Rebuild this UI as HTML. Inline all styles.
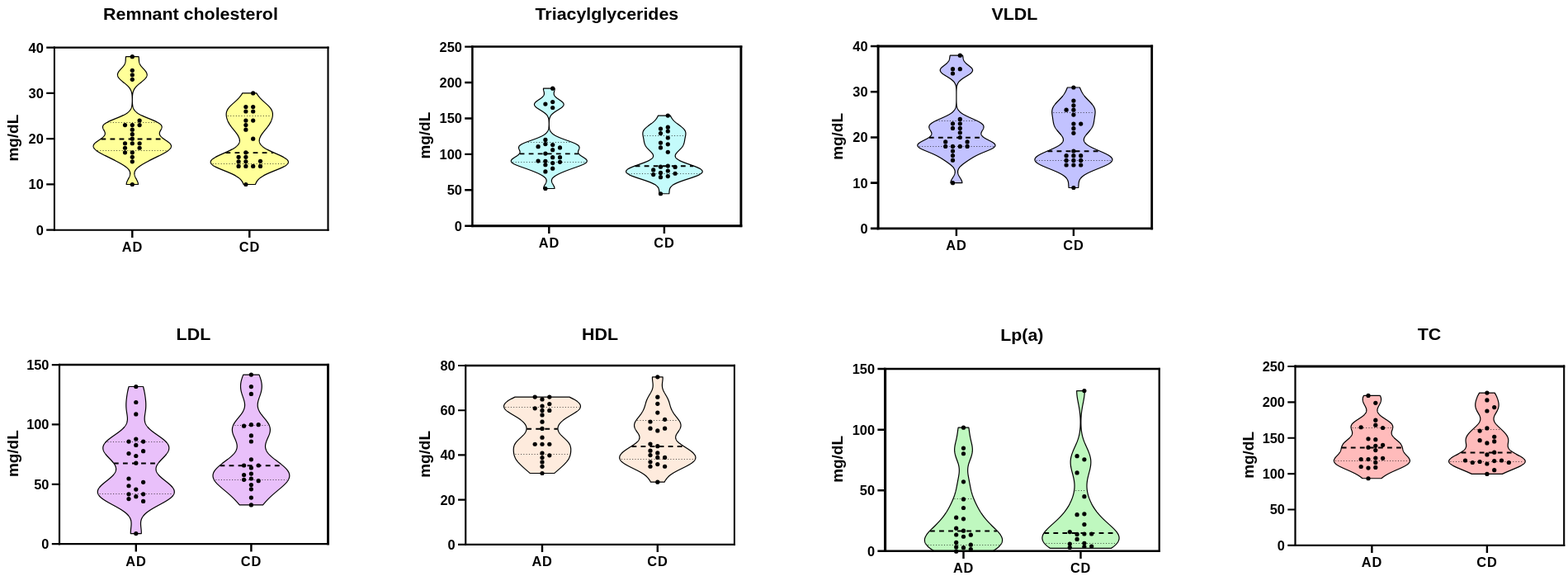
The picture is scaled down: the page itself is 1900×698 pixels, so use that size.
<!DOCTYPE html>
<html lang="en">
<head>
<meta charset="utf-8">
<title>Lipid profile violin plots</title>
<style>
html,body{margin:0;padding:0;background:#fff;}
body{width:1900px;height:698px;overflow:hidden;}
svg{display:block;}
text{font-family:"Liberation Sans",sans-serif;font-weight:bold;fill:#000;}
.ax{stroke:#000;stroke-width:2.0;fill:none;stroke-linecap:butt;}
.vio{stroke:#000;stroke-width:1.2;stroke-linejoin:round;}
.med{stroke:#000;stroke-width:1.9;stroke-dasharray:5.8 5.25;fill:none;}
.qt{stroke:#000;stroke-width:0.65;stroke-dasharray:1.1 2.2;fill:none;}
.tt{font-size:20.5px;text-anchor:middle;}
.yl{font-size:18.3px;text-anchor:middle;}
.tk{font-size:15.7px;text-anchor:end;}
.xl{font-size:15.7px;text-anchor:middle;letter-spacing:0.8px;}
</style>
</head>
<body>
<svg width="1900" height="698" viewBox="0 0 1900 698">
<rect x="0" y="0" width="1900" height="698" fill="#fff"/>
<g>
<text class="tt" transform="translate(230.95 23.7) scale(1.045 1)">Remnant cholesterol</text>
<path class="vio" fill="#FFFF99" d="M168.03,68.66 168.12,69.16 168.19,69.66 168.24,70.16 168.29,70.66 168.32,71.16 168.35,71.66 168.37,72.16 168.39,72.66 168.42,73.16 168.45,73.66 168.5,74.16 168.56,74.66 168.65,75.16 168.75,75.66 168.88,76.16 169.04,76.66 169.23,77.16 169.45,77.66 169.7,78.16 169.99,78.66 170.3,79.16 170.64,79.66 171.01,80.16 171.41,80.66 171.83,81.16 172.26,81.66 172.71,82.16 173.17,82.66 173.64,83.16 174.11,83.66 174.57,84.16 175.02,84.66 175.46,85.16 175.88,85.66 176.28,86.16 176.65,86.66 176.99,87.16 177.29,87.66 177.55,88.16 177.76,88.66 177.94,89.16 178.06,89.66 178.13,90.16 178.16,90.66 178.13,91.16 178.05,91.66 177.92,92.16 177.73,92.66 177.5,93.16 177.22,93.66 176.89,94.16 176.51,94.66 176.1,95.16 175.65,95.66 175.16,96.16 174.64,96.66 174.1,97.16 173.53,97.66 172.94,98.16 172.34,98.66 171.73,99.16 171.11,99.66 170.48,100.16 169.86,100.66 169.25,101.16 168.65,101.66 168.05,102.16 167.48,102.66 166.92,103.16 166.38,103.66 165.86,104.16 165.37,104.66 164.9,105.16 164.46,105.66 164.05,106.16 163.67,106.66 163.31,107.16 162.98,107.66 162.67,108.16 162.4,108.66 162.14,109.16 161.91,109.66 161.71,110.16 161.52,110.66 161.36,111.16 161.21,111.66 161.08,112.16 160.96,112.66 160.87,113.16 160.78,113.66 160.7,114.16 160.64,114.66 160.58,115.16 160.54,115.66 160.5,116.16 160.46,116.66 160.43,117.16 160.41,117.66 160.39,118.16 160.38,118.66 160.37,119.16 160.36,119.66 160.35,120.16 160.35,120.66 160.35,121.16 160.35,121.66 160.35,122.16 160.36,122.66 160.37,123.16 160.38,123.66 160.4,124.16 160.42,124.66 160.45,125.16 160.48,125.66 160.52,126.16 160.57,126.66 160.63,127.16 160.7,127.66 160.78,128.16 160.87,128.66 160.98,129.16 161.11,129.66 161.25,130.16 161.42,130.66 161.62,131.16 161.84,131.66 162.09,132.16 162.37,132.66 162.69,133.16 163.05,133.66 163.45,134.16 163.9,134.66 164.39,135.16 164.93,135.66 165.52,136.16 166.16,136.66 166.86,137.16 167.61,137.66 168.42,138.16 169.29,138.66 170.2,139.16 171.17,139.66 172.19,140.16 173.26,140.66 174.37,141.16 175.52,141.66 176.7,142.16 177.91,142.66 179.14,143.16 180.38,143.66 181.63,144.16 182.87,144.66 184.1,145.16 185.31,145.66 186.49,146.16 187.63,146.66 188.72,147.16 189.76,147.66 190.74,148.16 191.64,148.66 192.47,149.16 193.22,149.66 193.89,150.16 194.47,150.66 194.96,151.16 195.36,151.66 195.67,152.16 195.9,152.66 196.05,153.16 196.12,153.66 196.11,154.16 196.04,154.66 195.92,155.16 195.75,155.66 195.53,156.16 195.29,156.66 195.03,157.16 194.75,157.66 194.48,158.16 194.21,158.66 193.96,159.16 193.74,159.66 193.56,160.16 193.41,160.66 193.32,161.16 193.28,161.66 193.3,162.16 193.38,162.66 193.53,163.16 193.74,163.66 194.02,164.16 194.36,164.66 194.77,165.16 195.24,165.66 195.76,166.16 196.34,166.66 196.96,167.16 197.62,167.66 198.31,168.16 199.02,168.66 199.75,169.16 200.49,169.66 201.23,170.16 201.96,170.66 202.67,171.16 203.36,171.66 204.01,172.16 204.63,172.66 205.19,173.16 205.71,173.66 206.17,174.16 206.56,174.66 206.89,175.16 207.15,175.66 207.34,176.16 207.46,176.66 207.5,177.16 207.47,177.66 207.36,178.16 207.18,178.66 206.94,179.16 206.62,179.66 206.24,180.16 205.79,180.66 205.29,181.16 204.73,181.66 204.12,182.16 203.45,182.66 202.75,183.16 202,183.66 201.21,184.16 200.39,184.66 199.54,185.16 198.66,185.66 197.75,186.16 196.83,186.66 195.88,187.16 194.92,187.66 193.94,188.16 192.96,188.66 191.96,189.16 190.96,189.66 189.95,190.16 188.93,190.66 187.92,191.16 186.9,191.66 185.89,192.16 184.87,192.66 183.87,193.16 182.86,193.66 181.86,194.16 180.87,194.66 179.9,195.16 178.93,195.66 177.97,196.16 177.03,196.66 176.1,197.16 175.2,197.66 174.31,198.16 173.44,198.66 172.6,199.16 171.79,199.66 171,200.16 170.24,200.66 169.51,201.16 168.82,201.66 168.15,202.16 167.53,202.66 166.94,203.16 166.39,203.66 165.88,204.16 165.41,204.66 164.97,205.16 164.58,205.66 164.23,206.16 163.93,206.66 163.66,207.16 163.43,207.66 163.25,208.16 163.1,208.66 162.99,209.16 162.92,209.66 162.89,210.16 162.9,210.66 162.93,211.16 163.01,211.66 163.11,212.16 163.24,212.66 163.4,213.16 163.58,213.66 163.78,214.16 164,214.66 164.24,215.16 164.49,215.66 164.75,216.16 165.02,216.66 165.29,217.16 165.55,217.66 165.81,218.16 166.07,218.66 166.3,219.16 166.53,219.66 166.73,220.16 166.92,220.66 167.07,221.16 167.2,221.66 167.3,222.16 167.37,222.66 167.41,223.16 167.42,223.5 153.18,223.5 153.19,223.16 153.23,222.66 153.3,222.16 153.4,221.66 153.53,221.16 153.68,220.66 153.87,220.16 154.07,219.66 154.3,219.16 154.53,218.66 154.79,218.16 155.05,217.66 155.31,217.16 155.58,216.66 155.85,216.16 156.11,215.66 156.36,215.16 156.6,214.66 156.82,214.16 157.02,213.66 157.2,213.16 157.36,212.66 157.49,212.16 157.59,211.66 157.67,211.16 157.7,210.66 157.71,210.16 157.68,209.66 157.61,209.16 157.5,208.66 157.35,208.16 157.17,207.66 156.94,207.16 156.67,206.66 156.37,206.16 156.02,205.66 155.63,205.16 155.19,204.66 154.72,204.16 154.21,203.66 153.66,203.16 153.07,202.66 152.45,202.16 151.78,201.66 151.09,201.16 150.36,200.66 149.6,200.16 148.81,199.66 148,199.16 147.16,198.66 146.29,198.16 145.4,197.66 144.5,197.16 143.57,196.66 142.63,196.16 141.67,195.66 140.7,195.16 139.73,194.66 138.74,194.16 137.74,193.66 136.73,193.16 135.73,192.66 134.71,192.16 133.7,191.66 132.68,191.16 131.67,190.66 130.65,190.16 129.64,189.66 128.64,189.16 127.64,188.66 126.66,188.16 125.68,187.66 124.72,187.16 123.77,186.66 122.85,186.16 121.94,185.66 121.06,185.16 120.21,184.66 119.39,184.16 118.6,183.66 117.85,183.16 117.15,182.66 116.48,182.16 115.87,181.66 115.31,181.16 114.81,180.66 114.36,180.16 113.98,179.66 113.66,179.16 113.42,178.66 113.24,178.16 113.13,177.66 113.1,177.16 113.14,176.66 113.26,176.16 113.45,175.66 113.71,175.16 114.04,174.66 114.43,174.16 114.89,173.66 115.41,173.16 115.97,172.66 116.59,172.16 117.24,171.66 117.93,171.16 118.64,170.66 119.37,170.16 120.11,169.66 120.85,169.16 121.58,168.66 122.29,168.16 122.98,167.66 123.64,167.16 124.26,166.66 124.84,166.16 125.36,165.66 125.83,165.16 126.24,164.66 126.58,164.16 126.86,163.66 127.07,163.16 127.22,162.66 127.3,162.16 127.32,161.66 127.28,161.16 127.19,160.66 127.04,160.16 126.86,159.66 126.64,159.16 126.39,158.66 126.12,158.16 125.85,157.66 125.57,157.16 125.31,156.66 125.07,156.16 124.85,155.66 124.68,155.16 124.56,154.66 124.49,154.16 124.48,153.66 124.55,153.16 124.7,152.66 124.93,152.16 125.24,151.66 125.64,151.16 126.13,150.66 126.71,150.16 127.38,149.66 128.13,149.16 128.96,148.66 129.86,148.16 130.84,147.66 131.88,147.16 132.97,146.66 134.11,146.16 135.29,145.66 136.5,145.16 137.73,144.66 138.97,144.16 140.22,143.66 141.46,143.16 142.69,142.66 143.9,142.16 145.08,141.66 146.23,141.16 147.34,140.66 148.41,140.16 149.43,139.66 150.4,139.16 151.31,138.66 152.18,138.16 152.99,137.66 153.74,137.16 154.44,136.66 155.08,136.16 155.67,135.66 156.21,135.16 156.7,134.66 157.15,134.16 157.55,133.66 157.91,133.16 158.23,132.66 158.51,132.16 158.76,131.66 158.98,131.16 159.18,130.66 159.35,130.16 159.49,129.66 159.62,129.16 159.73,128.66 159.82,128.16 159.9,127.66 159.97,127.16 160.03,126.66 160.08,126.16 160.12,125.66 160.15,125.16 160.18,124.66 160.2,124.16 160.22,123.66 160.23,123.16 160.24,122.66 160.25,122.16 160.25,121.66 160.25,121.16 160.25,120.66 160.25,120.16 160.24,119.66 160.23,119.16 160.22,118.66 160.21,118.16 160.19,117.66 160.17,117.16 160.14,116.66 160.1,116.16 160.06,115.66 160.02,115.16 159.96,114.66 159.9,114.16 159.82,113.66 159.73,113.16 159.64,112.66 159.52,112.16 159.39,111.66 159.24,111.16 159.08,110.66 158.89,110.16 158.69,109.66 158.46,109.16 158.2,108.66 157.93,108.16 157.62,107.66 157.29,107.16 156.93,106.66 156.55,106.16 156.14,105.66 155.7,105.16 155.23,104.66 154.74,104.16 154.22,103.66 153.68,103.16 153.12,102.66 152.55,102.16 151.95,101.66 151.35,101.16 150.74,100.66 150.12,100.16 149.49,99.66 148.87,99.16 148.26,98.66 147.66,98.16 147.07,97.66 146.5,97.16 145.96,96.66 145.44,96.16 144.95,95.66 144.5,95.16 144.09,94.66 143.71,94.16 143.38,93.66 143.1,93.16 142.87,92.66 142.68,92.16 142.55,91.66 142.47,91.16 142.44,90.66 142.47,90.16 142.54,89.66 142.66,89.16 142.84,88.66 143.05,88.16 143.31,87.66 143.61,87.16 143.95,86.66 144.32,86.16 144.72,85.66 145.14,85.16 145.58,84.66 146.03,84.16 146.49,83.66 146.96,83.16 147.43,82.66 147.89,82.16 148.34,81.66 148.77,81.16 149.19,80.66 149.59,80.16 149.96,79.66 150.3,79.16 150.61,78.66 150.9,78.16 151.15,77.66 151.37,77.16 151.56,76.66 151.72,76.16 151.85,75.66 151.95,75.16 152.04,74.66 152.1,74.16 152.15,73.66 152.18,73.16 152.21,72.66 152.23,72.16 152.25,71.66 152.28,71.16 152.31,70.66 152.36,70.16 152.41,69.66 152.48,69.16 152.57,68.66Z"/>
<line class="qt" x1="130.24" y1="148.5" x2="190.36" y2="148.5"/>
<line class="qt" x1="117.91" y1="182.5" x2="202.69" y2="182.5"/>
<line class="med" x1="122.44" y1="168.5" x2="198.16" y2="168.5"/>
<circle cx="160.3" cy="68.66" r="2.6"/>
<circle cx="160.3" cy="85.25" r="2.6"/>
<circle cx="160.3" cy="90.78" r="2.6"/>
<circle cx="160.3" cy="96.31" r="2.6"/>
<circle cx="169.1" cy="146.08" r="2.6"/>
<circle cx="151.5" cy="151.61" r="2.6"/>
<circle cx="160.3" cy="151.61" r="2.6"/>
<circle cx="169.1" cy="151.61" r="2.6"/>
<circle cx="160.3" cy="157.14" r="2.6"/>
<circle cx="160.3" cy="162.67" r="2.6"/>
<circle cx="160.3" cy="168.2" r="2.6"/>
<circle cx="151.5" cy="173.73" r="2.6"/>
<circle cx="160.3" cy="173.73" r="2.6"/>
<circle cx="169.1" cy="173.73" r="2.6"/>
<circle cx="151.5" cy="179.26" r="2.6"/>
<circle cx="169.1" cy="179.26" r="2.6"/>
<circle cx="151.5" cy="184.79" r="2.6"/>
<circle cx="160.3" cy="184.79" r="2.6"/>
<circle cx="160.3" cy="190.32" r="2.6"/>
<circle cx="160.3" cy="195.85" r="2.6"/>
<circle cx="160.3" cy="223.5" r="2.6"/>
<path class="vio" fill="#FFFF99" d="M310.81,112.9 311.12,113.4 311.44,113.9 311.77,114.4 312.12,114.9 312.47,115.4 312.83,115.9 313.21,116.4 313.6,116.9 314,117.4 314.42,117.9 314.85,118.4 315.3,118.9 315.76,119.4 316.24,119.9 316.73,120.4 317.24,120.9 317.75,121.4 318.28,121.9 318.82,122.4 319.37,122.9 319.92,123.4 320.48,123.9 321.04,124.4 321.6,124.9 322.16,125.4 322.72,125.9 323.27,126.4 323.81,126.9 324.34,127.4 324.86,127.9 325.36,128.4 325.85,128.9 326.31,129.4 326.76,129.9 327.18,130.4 327.58,130.9 327.95,131.4 328.3,131.9 328.62,132.4 328.92,132.9 329.18,133.4 329.42,133.9 329.63,134.4 329.82,134.9 329.98,135.4 330.11,135.9 330.22,136.4 330.3,136.9 330.37,137.4 330.41,137.9 330.43,138.4 330.43,138.9 330.41,139.4 330.38,139.9 330.33,140.4 330.26,140.9 330.18,141.4 330.08,141.9 329.98,142.4 329.85,142.9 329.72,143.4 329.58,143.9 329.42,144.4 329.25,144.9 329.07,145.4 328.87,145.9 328.67,146.4 328.45,146.9 328.22,147.4 327.98,147.9 327.73,148.4 327.46,148.9 327.18,149.4 326.89,149.9 326.59,150.4 326.28,150.9 325.95,151.4 325.61,151.9 325.26,152.4 324.9,152.9 324.54,153.4 324.16,153.9 323.78,154.4 323.38,154.9 322.99,155.4 322.59,155.9 322.18,156.4 321.77,156.9 321.36,157.4 320.96,157.9 320.55,158.4 320.14,158.9 319.74,159.4 319.34,159.9 318.95,160.4 318.57,160.9 318.19,161.4 317.83,161.9 317.47,162.4 317.13,162.9 316.8,163.4 316.49,163.9 316.18,164.4 315.9,164.9 315.63,165.4 315.39,165.9 315.16,166.4 314.95,166.9 314.77,167.4 314.61,167.9 314.47,168.4 314.36,168.9 314.28,169.4 314.23,169.9 314.21,170.4 314.23,170.9 314.28,171.4 314.36,171.9 314.48,172.4 314.64,172.9 314.84,173.4 315.08,173.9 315.37,174.4 315.7,174.9 316.08,175.4 316.5,175.9 316.97,176.4 317.48,176.9 318.05,177.4 318.66,177.9 319.32,178.4 320.03,178.9 320.78,179.4 321.58,179.9 322.42,180.4 323.31,180.9 324.23,181.4 325.19,181.9 326.19,182.4 327.22,182.9 328.27,183.4 329.35,183.9 330.45,184.4 331.57,184.9 332.69,185.4 333.83,185.9 334.96,186.4 336.09,186.9 337.21,187.4 338.31,187.9 339.4,188.4 340.45,188.9 341.47,189.4 342.46,189.9 343.4,190.4 344.29,190.9 345.12,191.4 345.89,191.9 346.6,192.4 347.24,192.9 347.8,193.4 348.28,193.9 348.68,194.4 348.99,194.9 349.22,195.4 349.36,195.9 349.4,196.4 349.35,196.9 349.21,197.4 348.98,197.9 348.65,198.4 348.24,198.9 347.73,199.4 347.15,199.9 346.48,200.4 345.73,200.9 344.91,201.4 344.02,201.9 343.07,202.4 342.06,202.9 340.99,203.4 339.89,203.9 338.74,204.4 337.56,204.9 336.36,205.4 335.13,205.9 333.9,206.4 332.66,206.9 331.42,207.4 330.18,207.9 328.96,208.4 327.76,208.9 326.58,209.4 325.43,209.9 324.31,210.4 323.23,210.9 322.18,211.4 321.18,211.9 320.22,212.4 319.31,212.9 318.45,213.4 317.63,213.9 316.86,214.4 316.14,214.9 315.46,215.4 314.84,215.9 314.25,216.4 313.71,216.9 313.21,217.4 312.75,217.9 312.32,218.4 311.93,218.9 311.56,219.4 311.23,219.9 310.92,220.4 310.63,220.9 310.36,221.4 310.11,221.9 309.88,222.4 309.65,222.9 309.44,223.4 309.39,223.5 295.21,223.5 295.16,223.4 294.95,222.9 294.72,222.4 294.49,221.9 294.24,221.4 293.97,220.9 293.68,220.4 293.37,219.9 293.04,219.4 292.67,218.9 292.28,218.4 291.85,217.9 291.39,217.4 290.89,216.9 290.35,216.4 289.76,215.9 289.14,215.4 288.46,214.9 287.74,214.4 286.97,213.9 286.15,213.4 285.29,212.9 284.38,212.4 283.42,211.9 282.42,211.4 281.37,210.9 280.29,210.4 279.17,209.9 278.02,209.4 276.84,208.9 275.64,208.4 274.42,207.9 273.18,207.4 271.94,206.9 270.7,206.4 269.47,205.9 268.24,205.4 267.04,204.9 265.86,204.4 264.71,203.9 263.61,203.4 262.54,202.9 261.53,202.4 260.58,201.9 259.69,201.4 258.87,200.9 258.12,200.4 257.45,199.9 256.87,199.4 256.36,198.9 255.95,198.4 255.62,197.9 255.39,197.4 255.25,196.9 255.2,196.4 255.24,195.9 255.38,195.4 255.61,194.9 255.92,194.4 256.32,193.9 256.8,193.4 257.36,192.9 258,192.4 258.71,191.9 259.48,191.4 260.31,190.9 261.2,190.4 262.14,189.9 263.13,189.4 264.15,188.9 265.2,188.4 266.29,187.9 267.39,187.4 268.51,186.9 269.64,186.4 270.77,185.9 271.91,185.4 273.03,184.9 274.15,184.4 275.25,183.9 276.33,183.4 277.38,182.9 278.41,182.4 279.41,181.9 280.37,181.4 281.29,180.9 282.18,180.4 283.02,179.9 283.82,179.4 284.57,178.9 285.28,178.4 285.94,177.9 286.55,177.4 287.12,176.9 287.63,176.4 288.1,175.9 288.52,175.4 288.9,174.9 289.23,174.4 289.52,173.9 289.76,173.4 289.96,172.9 290.12,172.4 290.24,171.9 290.32,171.4 290.37,170.9 290.39,170.4 290.37,169.9 290.32,169.4 290.24,168.9 290.13,168.4 289.99,167.9 289.83,167.4 289.65,166.9 289.44,166.4 289.21,165.9 288.97,165.4 288.7,164.9 288.42,164.4 288.11,163.9 287.8,163.4 287.47,162.9 287.13,162.4 286.77,161.9 286.41,161.4 286.03,160.9 285.65,160.4 285.26,159.9 284.86,159.4 284.46,158.9 284.05,158.4 283.64,157.9 283.24,157.4 282.83,156.9 282.42,156.4 282.01,155.9 281.61,155.4 281.22,154.9 280.82,154.4 280.44,153.9 280.06,153.4 279.7,152.9 279.34,152.4 278.99,151.9 278.65,151.4 278.32,150.9 278.01,150.4 277.71,149.9 277.42,149.4 277.14,148.9 276.87,148.4 276.62,147.9 276.38,147.4 276.15,146.9 275.93,146.4 275.73,145.9 275.53,145.4 275.35,144.9 275.18,144.4 275.02,143.9 274.88,143.4 274.75,142.9 274.62,142.4 274.52,141.9 274.42,141.4 274.34,140.9 274.27,140.4 274.22,139.9 274.19,139.4 274.17,138.9 274.17,138.4 274.19,137.9 274.23,137.4 274.3,136.9 274.38,136.4 274.49,135.9 274.62,135.4 274.78,134.9 274.97,134.4 275.18,133.9 275.42,133.4 275.68,132.9 275.98,132.4 276.3,131.9 276.65,131.4 277.02,130.9 277.42,130.4 277.84,129.9 278.29,129.4 278.75,128.9 279.24,128.4 279.74,127.9 280.26,127.4 280.79,126.9 281.33,126.4 281.88,125.9 282.44,125.4 283,124.9 283.56,124.4 284.12,123.9 284.68,123.4 285.23,122.9 285.78,122.4 286.32,121.9 286.85,121.4 287.36,120.9 287.87,120.4 288.36,119.9 288.84,119.4 289.3,118.9 289.75,118.4 290.18,117.9 290.6,117.4 291,116.9 291.39,116.4 291.77,115.9 292.13,115.4 292.48,114.9 292.83,114.4 293.16,113.9 293.48,113.4 293.79,112.9Z"/>
<line class="qt" x1="275.89" y1="140.5" x2="328.71" y2="140.5"/>
<line class="qt" x1="257.72" y1="198.5" x2="346.88" y2="198.5"/>
<line class="med" x1="273.48" y1="185.09" x2="331.12" y2="185.09"/>
<circle cx="306.7" cy="112.9" r="2.6"/>
<circle cx="297.9" cy="129.49" r="2.6"/>
<circle cx="306.7" cy="129.49" r="2.6"/>
<circle cx="297.9" cy="135.02" r="2.6"/>
<circle cx="306.7" cy="135.02" r="2.6"/>
<circle cx="297.9" cy="146.08" r="2.6"/>
<circle cx="306.7" cy="146.08" r="2.6"/>
<circle cx="297.9" cy="151.61" r="2.6"/>
<circle cx="297.9" cy="157.14" r="2.6"/>
<circle cx="306.7" cy="168.2" r="2.6"/>
<circle cx="297.9" cy="184.79" r="2.6"/>
<circle cx="289.1" cy="190.32" r="2.6"/>
<circle cx="297.9" cy="190.32" r="2.6"/>
<circle cx="289.1" cy="195.85" r="2.6"/>
<circle cx="297.9" cy="195.85" r="2.6"/>
<circle cx="315.5" cy="195.3" r="2.6"/>
<circle cx="289.1" cy="201.38" r="2.6"/>
<circle cx="297.9" cy="201.38" r="2.6"/>
<circle cx="306.7" cy="201.38" r="2.6"/>
<circle cx="315.5" cy="201.38" r="2.6"/>
<circle cx="297.9" cy="223.5" r="2.6"/>
<path class="ax" style="stroke-width:2.0" d="M65.9,56.5V279.75"/>
<path class="ax" style="stroke-width:2.2" d="M64.9,57.6H398.55"/>
<path class="ax" style="stroke-width:2.1" d="M397.5,56.5V279.75"/>
<path class="ax" style="stroke-width:2.1" d="M64.9,278.7H398.55"/>
<path class="ax" style="stroke-width:2.2" d="M56.2,278.7H65.9M56.2,223.42H65.9M56.2,168.15H65.9M56.2,112.88H65.9M56.2,57.6H65.9"/>
<path class="ax" style="stroke-width:2.4" d="M160.3,278.7V287.9M302.3,278.7V287.9"/>
<text class="tk" transform="translate(52.8 284.6) scale(1.045 1)">0</text>
<text class="tk" transform="translate(52.8 229.32) scale(1.045 1)">10</text>
<text class="tk" transform="translate(52.8 174.05) scale(1.045 1)">20</text>
<text class="tk" transform="translate(52.8 118.78) scale(1.045 1)">30</text>
<text class="tk" transform="translate(52.8 63.5) scale(1.045 1)">40</text>
<text class="xl" transform="translate(160.4 305) scale(1.045 1)">AD</text>
<text class="xl" transform="translate(302.4 305) scale(1.045 1)">CD</text>
<text class="yl" transform="translate(22.1 167.15) rotate(-90) scale(1.035 1)">mg/dL</text>
</g>
<g>
<text class="tt" transform="translate(735.35 23.5) scale(1.045 1)">Triacylglycerides</text>
<path class="vio" fill="#C4FBFB" d="M672.12,107.2 672.14,107.7 672.13,108.2 672.07,108.7 671.99,109.2 671.89,109.7 671.76,110.2 671.63,110.7 671.51,111.2 671.39,111.7 671.29,112.2 671.21,112.7 671.18,113.2 671.19,113.7 671.25,114.2 671.37,114.7 671.56,115.2 671.81,115.7 672.13,116.2 672.51,116.7 672.97,117.2 673.49,117.7 674.07,118.2 674.7,118.7 675.37,119.2 676.08,119.7 676.81,120.2 677.55,120.7 678.29,121.2 679.02,121.7 679.72,122.2 680.39,122.7 681,123.2 681.55,123.7 682.04,124.2 682.44,124.7 682.75,125.2 682.97,125.7 683.09,126.2 683.11,126.7 683.03,127.2 682.86,127.7 682.58,128.2 682.22,128.7 681.77,129.2 681.24,129.7 680.64,130.2 679.98,130.7 679.27,131.2 678.52,131.7 677.74,132.2 676.94,132.7 676.13,133.2 675.31,133.7 674.51,134.2 673.72,134.7 672.95,135.2 672.21,135.7 671.51,136.2 670.84,136.7 670.22,137.2 669.63,137.7 669.1,138.2 668.61,138.7 668.16,139.2 667.76,139.7 667.4,140.2 667.09,140.7 666.81,141.2 666.56,141.7 666.35,142.2 666.17,142.7 666.02,143.2 665.88,143.7 665.77,144.2 665.68,144.7 665.61,145.2 665.54,145.7 665.49,146.2 665.45,146.7 665.42,147.2 665.4,147.7 665.38,148.2 665.36,148.7 665.36,149.2 665.35,149.7 665.35,150.2 665.35,150.7 665.36,151.2 665.38,151.7 665.39,152.2 665.42,152.7 665.45,153.2 665.49,153.7 665.54,154.2 665.6,154.7 665.67,155.2 665.76,155.7 665.87,156.2 666,156.7 666.15,157.2 666.34,157.7 666.55,158.2 666.8,158.7 667.08,159.2 667.41,159.7 667.79,160.2 668.21,160.7 668.69,161.2 669.22,161.7 669.81,162.2 670.47,162.7 671.19,163.2 671.97,163.7 672.83,164.2 673.74,164.7 674.73,165.2 675.78,165.7 676.89,166.2 678.06,166.7 679.29,167.2 680.57,167.7 681.89,168.2 683.24,168.7 684.63,169.2 686.03,169.7 687.44,170.2 688.84,170.7 690.23,171.2 691.59,171.7 692.91,172.2 694.18,172.7 695.38,173.2 696.5,173.7 697.54,174.2 698.48,174.7 699.32,175.2 700.05,175.7 700.66,176.2 701.16,176.7 701.54,177.2 701.81,177.7 701.98,178.2 702.06,178.7 702.05,179.2 701.96,179.7 701.82,180.2 701.64,180.7 701.43,181.2 701.21,181.7 701,182.2 700.81,182.7 700.66,183.2 700.56,183.7 700.53,184.2 700.57,184.7 700.7,185.2 700.92,185.7 701.22,186.2 701.62,186.7 702.1,187.2 702.66,187.7 703.29,188.2 703.99,188.7 704.73,189.2 705.5,189.7 706.29,190.2 707.08,190.7 707.85,191.2 708.58,191.7 709.26,192.2 709.87,192.7 710.38,193.2 710.79,193.7 711.09,194.2 711.26,194.7 711.3,195.2 711.19,195.7 710.95,196.2 710.56,196.7 710.04,197.2 709.38,197.7 708.59,198.2 707.69,198.7 706.68,199.2 705.58,199.7 704.39,200.2 703.14,200.7 701.83,201.2 700.48,201.7 699.1,202.2 697.69,202.7 696.28,203.2 694.86,203.7 693.44,204.2 692.04,204.7 690.65,205.2 689.28,205.7 687.94,206.2 686.62,206.7 685.33,207.2 684.06,207.7 682.83,208.2 681.63,208.7 680.47,209.2 679.34,209.7 678.25,210.2 677.21,210.7 676.21,211.2 675.26,211.7 674.37,212.2 673.52,212.7 672.74,213.2 672.02,213.7 671.36,214.2 670.76,214.7 670.23,215.2 669.77,215.7 669.38,216.2 669.05,216.7 668.8,217.2 668.61,217.7 668.48,218.2 668.42,218.7 668.41,219.2 668.46,219.7 668.57,220.2 668.71,220.7 668.9,221.2 669.12,221.7 669.37,222.2 669.65,222.7 669.93,223.2 670.22,223.7 670.51,224.2 670.79,224.7 671.06,225.2 671.3,225.7 671.51,226.2 671.69,226.7 671.83,227.2 671.92,227.7 671.97,228.2 671.98,228.5 658.62,228.5 658.63,228.2 658.68,227.7 658.77,227.2 658.91,226.7 659.09,226.2 659.3,225.7 659.54,225.2 659.81,224.7 660.09,224.2 660.38,223.7 660.67,223.2 660.95,222.7 661.23,222.2 661.48,221.7 661.7,221.2 661.89,220.7 662.03,220.2 662.14,219.7 662.19,219.2 662.18,218.7 662.12,218.2 661.99,217.7 661.8,217.2 661.55,216.7 661.22,216.2 660.83,215.7 660.37,215.2 659.84,214.7 659.24,214.2 658.58,213.7 657.86,213.2 657.08,212.7 656.23,212.2 655.34,211.7 654.39,211.2 653.39,210.7 652.35,210.2 651.26,209.7 650.13,209.2 648.97,208.7 647.77,208.2 646.54,207.7 645.27,207.2 643.98,206.7 642.66,206.2 641.32,205.7 639.95,205.2 638.56,204.7 637.16,204.2 635.74,203.7 634.32,203.2 632.91,202.7 631.5,202.2 630.12,201.7 628.77,201.2 627.46,200.7 626.21,200.2 625.02,199.7 623.92,199.2 622.91,198.7 622.01,198.2 621.22,197.7 620.56,197.2 620.04,196.7 619.65,196.2 619.41,195.7 619.3,195.2 619.34,194.7 619.51,194.2 619.81,193.7 620.22,193.2 620.73,192.7 621.34,192.2 622.02,191.7 622.75,191.2 623.52,190.7 624.31,190.2 625.1,189.7 625.87,189.2 626.61,188.7 627.31,188.2 627.94,187.7 628.5,187.2 628.98,186.7 629.38,186.2 629.68,185.7 629.9,185.2 630.03,184.7 630.07,184.2 630.04,183.7 629.94,183.2 629.79,182.7 629.6,182.2 629.39,181.7 629.17,181.2 628.96,180.7 628.78,180.2 628.64,179.7 628.55,179.2 628.54,178.7 628.62,178.2 628.79,177.7 629.06,177.2 629.44,176.7 629.94,176.2 630.55,175.7 631.28,175.2 632.12,174.7 633.06,174.2 634.1,173.7 635.22,173.2 636.42,172.7 637.69,172.2 639.01,171.7 640.37,171.2 641.76,170.7 643.16,170.2 644.57,169.7 645.97,169.2 647.36,168.7 648.71,168.2 650.03,167.7 651.31,167.2 652.54,166.7 653.71,166.2 654.82,165.7 655.87,165.2 656.86,164.7 657.77,164.2 658.63,163.7 659.41,163.2 660.13,162.7 660.79,162.2 661.38,161.7 661.91,161.2 662.39,160.7 662.81,160.2 663.19,159.7 663.52,159.2 663.8,158.7 664.05,158.2 664.26,157.7 664.45,157.2 664.6,156.7 664.73,156.2 664.84,155.7 664.93,155.2 665,154.7 665.06,154.2 665.11,153.7 665.15,153.2 665.18,152.7 665.21,152.2 665.22,151.7 665.24,151.2 665.25,150.7 665.25,150.2 665.25,149.7 665.24,149.2 665.24,148.7 665.22,148.2 665.2,147.7 665.18,147.2 665.15,146.7 665.11,146.2 665.06,145.7 664.99,145.2 664.92,144.7 664.83,144.2 664.72,143.7 664.58,143.2 664.43,142.7 664.25,142.2 664.04,141.7 663.79,141.2 663.51,140.7 663.2,140.2 662.84,139.7 662.44,139.2 661.99,138.7 661.5,138.2 660.97,137.7 660.38,137.2 659.76,136.7 659.09,136.2 658.39,135.7 657.65,135.2 656.88,134.7 656.09,134.2 655.29,133.7 654.47,133.2 653.66,132.7 652.86,132.2 652.08,131.7 651.33,131.2 650.62,130.7 649.96,130.2 649.36,129.7 648.83,129.2 648.38,128.7 648.02,128.2 647.74,127.7 647.57,127.2 647.49,126.7 647.51,126.2 647.63,125.7 647.85,125.2 648.16,124.7 648.56,124.2 649.05,123.7 649.6,123.2 650.21,122.7 650.88,122.2 651.58,121.7 652.31,121.2 653.05,120.7 653.79,120.2 654.52,119.7 655.23,119.2 655.9,118.7 656.53,118.2 657.11,117.7 657.63,117.2 658.09,116.7 658.47,116.2 658.79,115.7 659.04,115.2 659.23,114.7 659.35,114.2 659.41,113.7 659.42,113.2 659.39,112.7 659.31,112.2 659.21,111.7 659.09,111.2 658.97,110.7 658.84,110.2 658.71,109.7 658.61,109.2 658.53,108.7 658.47,108.2 658.46,107.7 658.48,107.2Z"/>
<line class="qt" x1="639.81" y1="172.5" x2="690.79" y2="172.5"/>
<line class="qt" x1="621.32" y1="196.5" x2="709.28" y2="196.5"/>
<line class="med" x1="629.65" y1="186.4" x2="700.95" y2="186.4"/>
<circle cx="669.7" cy="107.2" r="2.6"/>
<circle cx="669.7" cy="123.6" r="2.6"/>
<circle cx="660.9" cy="126.1" r="2.6"/>
<circle cx="669.7" cy="130.5" r="2.6"/>
<circle cx="660.9" cy="169.45" r="2.6"/>
<circle cx="660.9" cy="174.6" r="2.6"/>
<circle cx="669.7" cy="175.6" r="2.6"/>
<circle cx="652.1" cy="177.65" r="2.6"/>
<circle cx="678.5" cy="178.9" r="2.6"/>
<circle cx="669.7" cy="181.7" r="2.6"/>
<circle cx="660.9" cy="186.1" r="2.6"/>
<circle cx="669.7" cy="190.7" r="2.6"/>
<circle cx="678.5" cy="190.7" r="2.6"/>
<circle cx="652.1" cy="195.1" r="2.6"/>
<circle cx="660.9" cy="195.3" r="2.6"/>
<circle cx="678.5" cy="196.3" r="2.6"/>
<circle cx="669.7" cy="197.6" r="2.6"/>
<circle cx="660.9" cy="199.75" r="2.6"/>
<circle cx="669.7" cy="204.2" r="2.6"/>
<circle cx="660.9" cy="207.9" r="2.6"/>
<circle cx="660.9" cy="228.5" r="2.6"/>
<path class="vio" fill="#C4FBFB" d="M812.28,140.1 812.54,140.6 812.81,141.1 813.08,141.6 813.37,142.1 813.66,142.6 813.98,143.1 814.31,143.6 814.67,144.1 815.04,144.6 815.44,145.1 815.87,145.6 816.33,146.1 816.81,146.6 817.32,147.1 817.87,147.6 818.43,148.1 819.03,148.6 819.64,149.1 820.28,149.6 820.93,150.1 821.6,150.6 822.27,151.1 822.95,151.6 823.62,152.1 824.29,152.6 824.95,153.1 825.59,153.6 826.21,154.1 826.81,154.6 827.37,155.1 827.9,155.6 828.39,156.1 828.84,156.6 829.24,157.1 829.6,157.6 829.92,158.1 830.19,158.6 830.42,159.1 830.6,159.6 830.74,160.1 830.84,160.6 830.9,161.1 830.94,161.6 830.94,162.1 830.91,162.6 830.87,163.1 830.8,163.6 830.73,164.1 830.64,164.6 830.54,165.1 830.44,165.6 830.34,166.1 830.24,166.6 830.14,167.1 830.04,167.6 829.94,168.1 829.85,168.6 829.77,169.1 829.68,169.6 829.6,170.1 829.52,170.6 829.43,171.1 829.34,171.6 829.24,172.1 829.13,172.6 829,173.1 828.87,173.6 828.71,174.1 828.53,174.6 828.34,175.1 828.11,175.6 827.86,176.1 827.59,176.6 827.29,177.1 826.96,177.6 826.6,178.1 826.21,178.6 825.8,179.1 825.37,179.6 824.92,180.1 824.45,180.6 823.96,181.1 823.46,181.6 822.95,182.1 822.45,182.6 821.94,183.1 821.44,183.6 820.96,184.1 820.49,184.6 820.05,185.1 819.65,185.6 819.28,186.1 818.95,186.6 818.67,187.1 818.45,187.6 818.29,188.1 818.2,188.6 818.19,189.1 818.25,189.6 818.39,190.1 818.62,190.6 818.93,191.1 819.34,191.6 819.84,192.1 820.43,192.6 821.11,193.1 821.88,193.6 822.74,194.1 823.69,194.6 824.72,195.1 825.82,195.6 826.99,196.1 828.23,196.6 829.51,197.1 830.85,197.6 832.22,198.1 833.61,198.6 835.03,199.1 836.44,199.6 837.85,200.1 839.25,200.6 840.61,201.1 841.93,201.6 843.21,202.1 844.42,202.6 845.56,203.1 846.62,203.6 847.58,204.1 848.45,204.6 849.21,205.1 849.85,205.6 850.38,206.1 850.77,206.6 851.04,207.1 851.18,207.6 851.19,208.1 851.05,208.6 850.79,209.1 850.39,209.6 849.87,210.1 849.22,210.6 848.44,211.1 847.56,211.6 846.57,212.1 845.47,212.6 844.29,213.1 843.03,213.6 841.69,214.1 840.29,214.6 838.85,215.1 837.36,215.6 835.85,216.1 834.32,216.6 832.79,217.1 831.26,217.6 829.75,218.1 828.26,218.6 826.81,219.1 825.4,219.6 824.04,220.1 822.74,220.6 821.5,221.1 820.33,221.6 819.24,222.1 818.22,222.6 817.28,223.1 816.41,223.6 815.63,224.1 814.92,224.6 814.28,225.1 813.72,225.6 813.23,226.1 812.81,226.6 812.45,227.1 812.14,227.6 811.89,228.1 811.68,228.6 811.51,229.1 811.38,229.6 811.27,230.1 811.19,230.6 811.13,231.1 811.08,231.6 811.04,232.1 811,232.6 810.97,233.1 810.92,233.6 810.87,234.1 810.81,234.6 810.79,234.75 799.01,234.75 798.99,234.6 798.93,234.1 798.88,233.6 798.83,233.1 798.8,232.6 798.76,232.1 798.72,231.6 798.67,231.1 798.61,230.6 798.53,230.1 798.42,229.6 798.29,229.1 798.12,228.6 797.91,228.1 797.66,227.6 797.35,227.1 796.99,226.6 796.57,226.1 796.08,225.6 795.52,225.1 794.88,224.6 794.17,224.1 793.39,223.6 792.52,223.1 791.58,222.6 790.56,222.1 789.47,221.6 788.3,221.1 787.06,220.6 785.76,220.1 784.4,219.6 782.99,219.1 781.54,218.6 780.05,218.1 778.54,217.6 777.01,217.1 775.48,216.6 773.95,216.1 772.44,215.6 770.95,215.1 769.51,214.6 768.11,214.1 766.77,213.6 765.51,213.1 764.33,212.6 763.23,212.1 762.24,211.6 761.36,211.1 760.58,210.6 759.93,210.1 759.41,209.6 759.01,209.1 758.75,208.6 758.61,208.1 758.62,207.6 758.76,207.1 759.03,206.6 759.42,206.1 759.95,205.6 760.59,205.1 761.35,204.6 762.22,204.1 763.18,203.6 764.24,203.1 765.38,202.6 766.59,202.1 767.87,201.6 769.19,201.1 770.55,200.6 771.95,200.1 773.36,199.6 774.77,199.1 776.19,198.6 777.58,198.1 778.95,197.6 780.29,197.1 781.57,196.6 782.81,196.1 783.98,195.6 785.08,195.1 786.11,194.6 787.06,194.1 787.92,193.6 788.69,193.1 789.37,192.6 789.96,192.1 790.46,191.6 790.87,191.1 791.18,190.6 791.41,190.1 791.55,189.6 791.61,189.1 791.6,188.6 791.51,188.1 791.35,187.6 791.13,187.1 790.85,186.6 790.52,186.1 790.15,185.6 789.75,185.1 789.31,184.6 788.84,184.1 788.36,183.6 787.86,183.1 787.35,182.6 786.85,182.1 786.34,181.6 785.84,181.1 785.35,180.6 784.88,180.1 784.43,179.6 784,179.1 783.59,178.6 783.2,178.1 782.84,177.6 782.51,177.1 782.21,176.6 781.94,176.1 781.69,175.6 781.46,175.1 781.27,174.6 781.09,174.1 780.93,173.6 780.8,173.1 780.67,172.6 780.56,172.1 780.46,171.6 780.37,171.1 780.28,170.6 780.2,170.1 780.12,169.6 780.03,169.1 779.95,168.6 779.86,168.1 779.76,167.6 779.66,167.1 779.56,166.6 779.46,166.1 779.36,165.6 779.26,165.1 779.16,164.6 779.07,164.1 779,163.6 778.93,163.1 778.89,162.6 778.86,162.1 778.86,161.6 778.9,161.1 778.96,160.6 779.06,160.1 779.2,159.6 779.38,159.1 779.61,158.6 779.88,158.1 780.2,157.6 780.56,157.1 780.96,156.6 781.41,156.1 781.9,155.6 782.43,155.1 782.99,154.6 783.59,154.1 784.21,153.6 784.85,153.1 785.51,152.6 786.18,152.1 786.85,151.6 787.53,151.1 788.2,150.6 788.87,150.1 789.52,149.6 790.16,149.1 790.77,148.6 791.37,148.1 791.93,147.6 792.48,147.1 792.99,146.6 793.47,146.1 793.93,145.6 794.36,145.1 794.76,144.6 795.13,144.1 795.49,143.6 795.82,143.1 796.14,142.6 796.43,142.1 796.72,141.6 796.99,141.1 797.26,140.6 797.52,140.1Z"/>
<line class="qt" x1="780.73" y1="164.5" x2="829.07" y2="164.5"/>
<line class="qt" x1="761.42" y1="210.5" x2="848.38" y2="210.5"/>
<line class="med" x1="769.66" y1="201.3" x2="840.14" y2="201.3"/>
<circle cx="809.3" cy="140.1" r="2.6"/>
<circle cx="809.3" cy="154.2" r="2.6"/>
<circle cx="800.5" cy="156.1" r="2.6"/>
<circle cx="809.3" cy="159" r="2.6"/>
<circle cx="800.5" cy="161.55" r="2.6"/>
<circle cx="809.3" cy="167" r="2.6"/>
<circle cx="800.5" cy="173.1" r="2.6"/>
<circle cx="809.3" cy="174.85" r="2.6"/>
<circle cx="800.5" cy="178.95" r="2.6"/>
<circle cx="809.3" cy="184.25" r="2.6"/>
<circle cx="809.3" cy="201.1" r="2.6"/>
<circle cx="800.5" cy="202.15" r="2.6"/>
<circle cx="818.1" cy="202.4" r="2.6"/>
<circle cx="791.7" cy="205.9" r="2.6"/>
<circle cx="809.3" cy="207" r="2.6"/>
<circle cx="800.5" cy="209.4" r="2.6"/>
<circle cx="818.1" cy="210.25" r="2.6"/>
<circle cx="791.7" cy="211.6" r="2.6"/>
<circle cx="809.3" cy="213.6" r="2.6"/>
<circle cx="800.5" cy="214.7" r="2.6"/>
<circle cx="800.5" cy="234.75" r="2.6"/>
<path class="ax" style="stroke-width:2.5" d="M572.4,55.35V275.15"/>
<path class="ax" style="stroke-width:2.5" d="M571.15,56.6H899.35"/>
<path class="ax" style="stroke-width:2.9" d="M897.9,55.35V275.15"/>
<path class="ax" style="stroke-width:2.9" d="M571.15,273.7H899.35"/>
<path class="ax" style="stroke-width:2.4000000000000004" d="M563.2,273.7H572.4M563.2,230.28H572.4M563.2,186.86H572.4M563.2,143.44H572.4M563.2,100.02H572.4M563.2,56.6H572.4"/>
<path class="ax" style="stroke-width:2.4" d="M665.3,273.7V282.9M804.9,273.7V282.9"/>
<text class="tk" transform="translate(559.9 279.6) scale(1.045 1)">0</text>
<text class="tk" transform="translate(559.9 236.18) scale(1.045 1)">50</text>
<text class="tk" transform="translate(559.9 192.76) scale(1.045 1)">100</text>
<text class="tk" transform="translate(559.9 149.34) scale(1.045 1)">150</text>
<text class="tk" transform="translate(559.9 105.92) scale(1.045 1)">200</text>
<text class="tk" transform="translate(559.9 62.5) scale(1.045 1)">250</text>
<text class="xl" transform="translate(665.4 300) scale(1.045 1)">AD</text>
<text class="xl" transform="translate(805 300) scale(1.045 1)">CD</text>
<text class="yl" transform="translate(521.1 164.15) rotate(-90) scale(1.035 1)">mg/dL</text>
</g>
<g>
<text class="tt" transform="translate(1229.35 23.7) scale(1.045 1)">VLDL</text>
<path class="vio" fill="#C2C2FF" d="M1166.52,67.2 1166.63,67.7 1166.73,68.2 1166.81,68.7 1166.89,69.2 1166.96,69.7 1167.03,70.2 1167.12,70.7 1167.21,71.2 1167.33,71.7 1167.47,72.2 1167.64,72.7 1167.85,73.2 1168.1,73.7 1168.39,74.2 1168.73,74.7 1169.12,75.2 1169.55,75.7 1170.03,76.2 1170.55,76.7 1171.12,77.2 1171.71,77.7 1172.33,78.2 1172.96,78.7 1173.61,79.2 1174.26,79.7 1174.89,80.2 1175.51,80.7 1176.09,81.2 1176.64,81.7 1177.13,82.2 1177.56,82.7 1177.92,83.2 1178.21,83.7 1178.42,84.2 1178.54,84.7 1178.58,85.2 1178.52,85.7 1178.37,86.2 1178.14,86.7 1177.81,87.2 1177.41,87.7 1176.93,88.2 1176.38,88.7 1175.76,89.2 1175.09,89.7 1174.37,90.2 1173.61,90.7 1172.82,91.2 1172.02,91.7 1171.2,92.2 1170.37,92.7 1169.55,93.2 1168.74,93.7 1167.95,94.2 1167.18,94.7 1166.45,95.2 1165.74,95.7 1165.07,96.2 1164.44,96.7 1163.85,97.2 1163.3,97.7 1162.79,98.2 1162.32,98.7 1161.9,99.2 1161.51,99.7 1161.17,100.2 1160.86,100.7 1160.58,101.2 1160.33,101.7 1160.12,102.2 1159.93,102.7 1159.77,103.2 1159.63,103.7 1159.5,104.2 1159.4,104.7 1159.31,105.2 1159.24,105.7 1159.18,106.2 1159.12,106.7 1159.08,107.2 1159.04,107.7 1159.02,108.2 1158.99,108.7 1158.97,109.2 1158.96,109.7 1158.94,110.2 1158.93,110.7 1158.93,111.2 1158.92,111.7 1158.92,112.2 1158.91,112.7 1158.91,113.2 1158.91,113.7 1158.91,114.2 1158.9,114.7 1158.9,115.2 1158.9,115.7 1158.9,116.2 1158.9,116.7 1158.9,117.2 1158.9,117.7 1158.9,118.2 1158.9,118.7 1158.91,119.2 1158.91,119.7 1158.91,120.2 1158.91,120.7 1158.92,121.2 1158.92,121.7 1158.93,122.2 1158.93,122.7 1158.94,123.2 1158.96,123.7 1158.97,124.2 1158.99,124.7 1159.02,125.2 1159.04,125.7 1159.08,126.2 1159.12,126.7 1159.18,127.2 1159.24,127.7 1159.31,128.2 1159.4,128.7 1159.5,129.2 1159.63,129.7 1159.77,130.2 1159.93,130.7 1160.12,131.2 1160.34,131.7 1160.59,132.2 1160.87,132.7 1161.19,133.2 1161.55,133.7 1161.95,134.2 1162.39,134.7 1162.88,135.2 1163.42,135.7 1164,136.2 1164.64,136.7 1165.33,137.2 1166.06,137.7 1166.85,138.2 1167.69,138.7 1168.58,139.2 1169.51,139.7 1170.48,140.2 1171.49,140.7 1172.54,141.2 1173.62,141.7 1174.72,142.2 1175.84,142.7 1176.97,143.2 1178.1,143.7 1179.23,144.2 1180.36,144.7 1181.47,145.2 1182.55,145.7 1183.6,146.2 1184.61,146.7 1185.58,147.2 1186.5,147.7 1187.36,148.2 1188.15,148.7 1188.88,149.2 1189.54,149.7 1190.12,150.2 1190.62,150.7 1191.05,151.2 1191.4,151.7 1191.67,152.2 1191.86,152.7 1191.98,153.2 1192.03,153.7 1192.01,154.2 1191.94,154.7 1191.8,155.2 1191.62,155.7 1191.4,156.2 1191.15,156.7 1190.87,157.2 1190.59,157.7 1190.29,158.2 1190,158.7 1189.73,159.2 1189.48,159.7 1189.26,160.2 1189.09,160.7 1188.96,161.2 1188.9,161.7 1188.9,162.2 1188.97,162.7 1189.11,163.2 1189.34,163.7 1189.64,164.2 1190.03,164.7 1190.51,165.2 1191.06,165.7 1191.69,166.2 1192.4,166.7 1193.17,167.2 1194.01,167.7 1194.89,168.2 1195.82,168.7 1196.77,169.2 1197.74,169.7 1198.72,170.2 1199.69,170.7 1200.64,171.2 1201.55,171.7 1202.4,172.2 1203.2,172.7 1203.91,173.2 1204.54,173.7 1205.07,174.2 1205.48,174.7 1205.78,175.2 1205.95,175.7 1206,176.2 1205.91,176.7 1205.7,177.2 1205.35,177.7 1204.88,178.2 1204.29,178.7 1203.59,179.2 1202.78,179.7 1201.88,180.2 1200.9,180.7 1199.84,181.2 1198.73,181.7 1197.57,182.2 1196.38,182.7 1195.16,183.2 1193.94,183.7 1192.71,184.2 1191.49,184.7 1190.29,185.2 1189.11,185.7 1187.95,186.2 1186.83,186.7 1185.74,187.2 1184.69,187.7 1183.67,188.2 1182.69,188.7 1181.74,189.2 1180.82,189.7 1179.93,190.2 1179.07,190.7 1178.23,191.2 1177.41,191.7 1176.61,192.2 1175.82,192.7 1175.04,193.2 1174.28,193.7 1173.52,194.2 1172.77,194.7 1172.03,195.2 1171.3,195.7 1170.57,196.2 1169.86,196.7 1169.16,197.2 1168.47,197.7 1167.8,198.2 1167.14,198.7 1166.51,199.2 1165.9,199.7 1165.32,200.2 1164.76,200.7 1164.23,201.2 1163.74,201.7 1163.27,202.2 1162.85,202.7 1162.46,203.2 1162.1,203.7 1161.78,204.2 1161.5,204.7 1161.26,205.2 1161.05,205.7 1160.89,206.2 1160.76,206.7 1160.66,207.2 1160.61,207.7 1160.58,208.2 1160.6,208.7 1160.64,209.2 1160.72,209.7 1160.83,210.2 1160.97,210.7 1161.14,211.2 1161.34,211.7 1161.56,212.2 1161.8,212.7 1162.06,213.2 1162.34,213.7 1162.63,214.2 1162.93,214.7 1163.24,215.2 1163.55,215.7 1163.86,216.2 1164.16,216.7 1164.45,217.2 1164.72,217.7 1164.97,218.2 1165.2,218.7 1165.4,219.2 1165.57,219.7 1165.7,220.2 1165.8,220.7 1165.86,221.2 1165.88,221.7 1151.92,221.7 1151.94,221.2 1152,220.7 1152.1,220.2 1152.23,219.7 1152.4,219.2 1152.6,218.7 1152.83,218.2 1153.08,217.7 1153.35,217.2 1153.64,216.7 1153.94,216.2 1154.25,215.7 1154.56,215.2 1154.87,214.7 1155.17,214.2 1155.46,213.7 1155.74,213.2 1156,212.7 1156.24,212.2 1156.46,211.7 1156.66,211.2 1156.83,210.7 1156.97,210.2 1157.08,209.7 1157.16,209.2 1157.2,208.7 1157.22,208.2 1157.19,207.7 1157.14,207.2 1157.04,206.7 1156.91,206.2 1156.75,205.7 1156.54,205.2 1156.3,204.7 1156.02,204.2 1155.7,203.7 1155.34,203.2 1154.95,202.7 1154.53,202.2 1154.06,201.7 1153.57,201.2 1153.04,200.7 1152.48,200.2 1151.9,199.7 1151.29,199.2 1150.66,198.7 1150,198.2 1149.33,197.7 1148.64,197.2 1147.94,196.7 1147.23,196.2 1146.5,195.7 1145.77,195.2 1145.03,194.7 1144.28,194.2 1143.52,193.7 1142.76,193.2 1141.98,192.7 1141.19,192.2 1140.39,191.7 1139.57,191.2 1138.73,190.7 1137.87,190.2 1136.98,189.7 1136.06,189.2 1135.11,188.7 1134.13,188.2 1133.11,187.7 1132.06,187.2 1130.97,186.7 1129.85,186.2 1128.69,185.7 1127.51,185.2 1126.31,184.7 1125.09,184.2 1123.86,183.7 1122.64,183.2 1121.42,182.7 1120.23,182.2 1119.07,181.7 1117.96,181.2 1116.9,180.7 1115.92,180.2 1115.02,179.7 1114.21,179.2 1113.51,178.7 1112.92,178.2 1112.45,177.7 1112.1,177.2 1111.89,176.7 1111.8,176.2 1111.85,175.7 1112.02,175.2 1112.32,174.7 1112.73,174.2 1113.26,173.7 1113.89,173.2 1114.6,172.7 1115.4,172.2 1116.25,171.7 1117.16,171.2 1118.11,170.7 1119.08,170.2 1120.06,169.7 1121.03,169.2 1121.98,168.7 1122.91,168.2 1123.79,167.7 1124.63,167.2 1125.4,166.7 1126.11,166.2 1126.74,165.7 1127.29,165.2 1127.77,164.7 1128.16,164.2 1128.46,163.7 1128.69,163.2 1128.83,162.7 1128.9,162.2 1128.9,161.7 1128.84,161.2 1128.71,160.7 1128.54,160.2 1128.32,159.7 1128.07,159.2 1127.8,158.7 1127.51,158.2 1127.21,157.7 1126.93,157.2 1126.65,156.7 1126.4,156.2 1126.18,155.7 1126,155.2 1125.86,154.7 1125.79,154.2 1125.77,153.7 1125.82,153.2 1125.94,152.7 1126.13,152.2 1126.4,151.7 1126.75,151.2 1127.18,150.7 1127.68,150.2 1128.26,149.7 1128.92,149.2 1129.65,148.7 1130.44,148.2 1131.3,147.7 1132.22,147.2 1133.19,146.7 1134.2,146.2 1135.25,145.7 1136.33,145.2 1137.44,144.7 1138.57,144.2 1139.7,143.7 1140.83,143.2 1141.96,142.7 1143.08,142.2 1144.18,141.7 1145.26,141.2 1146.31,140.7 1147.32,140.2 1148.29,139.7 1149.22,139.2 1150.11,138.7 1150.95,138.2 1151.74,137.7 1152.47,137.2 1153.16,136.7 1153.8,136.2 1154.38,135.7 1154.92,135.2 1155.41,134.7 1155.85,134.2 1156.25,133.7 1156.61,133.2 1156.93,132.7 1157.21,132.2 1157.46,131.7 1157.68,131.2 1157.87,130.7 1158.03,130.2 1158.17,129.7 1158.3,129.2 1158.4,128.7 1158.49,128.2 1158.56,127.7 1158.62,127.2 1158.68,126.7 1158.72,126.2 1158.76,125.7 1158.78,125.2 1158.81,124.7 1158.83,124.2 1158.84,123.7 1158.86,123.2 1158.87,122.7 1158.87,122.2 1158.88,121.7 1158.88,121.2 1158.89,120.7 1158.89,120.2 1158.89,119.7 1158.89,119.2 1158.9,118.7 1158.9,118.2 1158.9,117.7 1158.9,117.2 1158.9,116.7 1158.9,116.2 1158.9,115.7 1158.9,115.2 1158.9,114.7 1158.89,114.2 1158.89,113.7 1158.89,113.2 1158.89,112.7 1158.88,112.2 1158.88,111.7 1158.87,111.2 1158.87,110.7 1158.86,110.2 1158.84,109.7 1158.83,109.2 1158.81,108.7 1158.78,108.2 1158.76,107.7 1158.72,107.2 1158.68,106.7 1158.62,106.2 1158.56,105.7 1158.49,105.2 1158.4,104.7 1158.3,104.2 1158.17,103.7 1158.03,103.2 1157.87,102.7 1157.68,102.2 1157.47,101.7 1157.22,101.2 1156.94,100.7 1156.63,100.2 1156.29,99.7 1155.9,99.2 1155.48,98.7 1155.01,98.2 1154.5,97.7 1153.95,97.2 1153.36,96.7 1152.73,96.2 1152.06,95.7 1151.35,95.2 1150.62,94.7 1149.85,94.2 1149.06,93.7 1148.25,93.2 1147.43,92.7 1146.6,92.2 1145.78,91.7 1144.98,91.2 1144.19,90.7 1143.43,90.2 1142.71,89.7 1142.04,89.2 1141.42,88.7 1140.87,88.2 1140.39,87.7 1139.99,87.2 1139.66,86.7 1139.43,86.2 1139.28,85.7 1139.22,85.2 1139.26,84.7 1139.38,84.2 1139.59,83.7 1139.88,83.2 1140.24,82.7 1140.67,82.2 1141.16,81.7 1141.71,81.2 1142.29,80.7 1142.91,80.2 1143.54,79.7 1144.19,79.2 1144.84,78.7 1145.47,78.2 1146.09,77.7 1146.68,77.2 1147.25,76.7 1147.77,76.2 1148.25,75.7 1148.68,75.2 1149.07,74.7 1149.41,74.2 1149.7,73.7 1149.95,73.2 1150.16,72.7 1150.33,72.2 1150.47,71.7 1150.59,71.2 1150.68,70.7 1150.77,70.2 1150.84,69.7 1150.91,69.2 1150.99,68.7 1151.07,68.2 1151.17,67.7 1151.28,67.2Z"/>
<line class="qt" x1="1134.39" y1="146.5" x2="1183.41" y2="146.5"/>
<line class="qt" x1="1113.83" y1="177.5" x2="1203.97" y2="177.5"/>
<line class="med" x1="1125.89" y1="166.8" x2="1191.91" y2="166.8"/>
<circle cx="1163.3" cy="67.2" r="2.6"/>
<circle cx="1154.5" cy="83.7" r="2.6"/>
<circle cx="1163.3" cy="83.7" r="2.6"/>
<circle cx="1154.5" cy="89" r="2.6"/>
<circle cx="1163.3" cy="144.4" r="2.6"/>
<circle cx="1154.5" cy="149.8" r="2.6"/>
<circle cx="1163.3" cy="149.8" r="2.6"/>
<circle cx="1154.5" cy="155.4" r="2.6"/>
<circle cx="1163.3" cy="155.4" r="2.6"/>
<circle cx="1163.3" cy="160.8" r="2.6"/>
<circle cx="1163.3" cy="166.5" r="2.6"/>
<circle cx="1145.7" cy="171.9" r="2.6"/>
<circle cx="1172.1" cy="171.9" r="2.6"/>
<circle cx="1145.7" cy="177.4" r="2.6"/>
<circle cx="1154.5" cy="177.4" r="2.6"/>
<circle cx="1163.3" cy="177.4" r="2.6"/>
<circle cx="1172.1" cy="177.4" r="2.6"/>
<circle cx="1154.5" cy="183.1" r="2.6"/>
<circle cx="1154.5" cy="188.5" r="2.6"/>
<circle cx="1154.5" cy="194.2" r="2.6"/>
<circle cx="1154.5" cy="221.7" r="2.6"/>
<path class="vio" fill="#C2C2FF" d="M1308.41,106 1308.61,106.5 1308.82,107 1309.03,107.5 1309.24,108 1309.45,108.5 1309.67,109 1309.9,109.5 1310.13,110 1310.37,110.5 1310.62,111 1310.89,111.5 1311.16,112 1311.44,112.5 1311.74,113 1312.05,113.5 1312.37,114 1312.71,114.5 1313.07,115 1313.43,115.5 1313.82,116 1314.21,116.5 1314.62,117 1315.05,117.5 1315.48,118 1315.93,118.5 1316.39,119 1316.86,119.5 1317.33,120 1317.81,120.5 1318.3,121 1318.79,121.5 1319.28,122 1319.77,122.5 1320.26,123 1320.74,123.5 1321.22,124 1321.68,124.5 1322.14,125 1322.58,125.5 1323.01,126 1323.42,126.5 1323.82,127 1324.19,127.5 1324.55,128 1324.88,128.5 1325.19,129 1325.48,129.5 1325.74,130 1325.98,130.5 1326.19,131 1326.38,131.5 1326.55,132 1326.69,132.5 1326.8,133 1326.9,133.5 1326.97,134 1327.02,134.5 1327.06,135 1327.08,135.5 1327.08,136 1327.06,136.5 1327.04,137 1327,137.5 1326.95,138 1326.89,138.5 1326.83,139 1326.76,139.5 1326.69,140 1326.62,140.5 1326.54,141 1326.47,141.5 1326.39,142 1326.32,142.5 1326.24,143 1326.17,143.5 1326.1,144 1326.03,144.5 1325.95,145 1325.88,145.5 1325.81,146 1325.73,146.5 1325.66,147 1325.57,147.5 1325.49,148 1325.39,148.5 1325.29,149 1325.18,149.5 1325.05,150 1324.91,150.5 1324.76,151 1324.6,151.5 1324.42,152 1324.22,152.5 1324,153 1323.77,153.5 1323.51,154 1323.24,154.5 1322.95,155 1322.64,155.5 1322.31,156 1321.96,156.5 1321.59,157 1321.21,157.5 1320.82,158 1320.41,158.5 1319.99,159 1319.56,159.5 1319.13,160 1318.69,160.5 1318.25,161 1317.81,161.5 1317.37,162 1316.94,162.5 1316.52,163 1316.11,163.5 1315.72,164 1315.35,164.5 1314.99,165 1314.67,165.5 1314.37,166 1314.11,166.5 1313.88,167 1313.69,167.5 1313.53,168 1313.43,168.5 1313.36,169 1313.35,169.5 1313.39,170 1313.47,170.5 1313.62,171 1313.82,171.5 1314.07,172 1314.38,172.5 1314.76,173 1315.19,173.5 1315.67,174 1316.22,174.5 1316.83,175 1317.49,175.5 1318.21,176 1318.98,176.5 1319.8,177 1320.67,177.5 1321.59,178 1322.55,178.5 1323.55,179 1324.59,179.5 1325.66,180 1326.76,180.5 1327.88,181 1329.02,181.5 1330.17,182 1331.33,182.5 1332.49,183 1333.65,183.5 1334.8,184 1335.93,184.5 1337.05,185 1338.14,185.5 1339.2,186 1340.22,186.5 1341.19,187 1342.12,187.5 1343,188 1343.81,188.5 1344.57,189 1345.25,189.5 1345.87,190 1346.4,190.5 1346.86,191 1347.24,191.5 1347.54,192 1347.75,192.5 1347.87,193 1347.9,193.5 1347.84,194 1347.7,194.5 1347.47,195 1347.15,195.5 1346.74,196 1346.25,196.5 1345.68,197 1345.03,197.5 1344.31,198 1343.52,198.5 1342.66,199 1341.74,199.5 1340.76,200 1339.73,200.5 1338.66,201 1337.54,201.5 1336.39,202 1335.2,202.5 1334,203 1332.78,203.5 1331.54,204 1330.3,204.5 1329.06,205 1327.82,205.5 1326.6,206 1325.38,206.5 1324.19,207 1323.03,207.5 1321.89,208 1320.78,208.5 1319.71,209 1318.68,209.5 1317.69,210 1316.75,210.5 1315.85,211 1314.99,211.5 1314.19,212 1313.43,212.5 1312.73,213 1312.07,213.5 1311.47,214 1310.91,214.5 1310.4,215 1309.93,215.5 1309.51,216 1309.14,216.5 1308.8,217 1308.5,217.5 1308.24,218 1308.01,218.5 1307.82,219 1307.65,219.5 1307.51,220 1307.39,220.5 1307.29,221 1307.21,221.5 1307.14,222 1307.08,222.5 1307.04,223 1307,223.5 1306.97,224 1306.94,224.5 1306.91,225 1306.88,225.5 1306.84,226 1306.8,226.5 1306.76,227 1306.71,227.5 1295.09,227.5 1295.04,227 1295,226.5 1294.96,226 1294.92,225.5 1294.89,225 1294.86,224.5 1294.83,224 1294.8,223.5 1294.76,223 1294.72,222.5 1294.66,222 1294.59,221.5 1294.51,221 1294.41,220.5 1294.29,220 1294.15,219.5 1293.98,219 1293.79,218.5 1293.56,218 1293.3,217.5 1293,217 1292.66,216.5 1292.29,216 1291.87,215.5 1291.4,215 1290.89,214.5 1290.33,214 1289.73,213.5 1289.07,213 1288.37,212.5 1287.61,212 1286.81,211.5 1285.95,211 1285.05,210.5 1284.11,210 1283.12,209.5 1282.09,209 1281.02,208.5 1279.91,208 1278.77,207.5 1277.61,207 1276.42,206.5 1275.2,206 1273.98,205.5 1272.74,205 1271.5,204.5 1270.26,204 1269.02,203.5 1267.8,203 1266.6,202.5 1265.41,202 1264.26,201.5 1263.14,201 1262.07,200.5 1261.04,200 1260.06,199.5 1259.14,199 1258.28,198.5 1257.49,198 1256.77,197.5 1256.12,197 1255.55,196.5 1255.06,196 1254.65,195.5 1254.33,195 1254.1,194.5 1253.96,194 1253.9,193.5 1253.93,193 1254.05,192.5 1254.26,192 1254.56,191.5 1254.94,191 1255.4,190.5 1255.93,190 1256.55,189.5 1257.23,189 1257.99,188.5 1258.8,188 1259.68,187.5 1260.61,187 1261.58,186.5 1262.6,186 1263.66,185.5 1264.75,185 1265.87,184.5 1267,184 1268.15,183.5 1269.31,183 1270.47,182.5 1271.63,182 1272.78,181.5 1273.92,181 1275.04,180.5 1276.14,180 1277.21,179.5 1278.25,179 1279.25,178.5 1280.21,178 1281.13,177.5 1282,177 1282.82,176.5 1283.59,176 1284.31,175.5 1284.97,175 1285.58,174.5 1286.13,174 1286.61,173.5 1287.04,173 1287.42,172.5 1287.73,172 1287.98,171.5 1288.18,171 1288.33,170.5 1288.41,170 1288.45,169.5 1288.44,169 1288.37,168.5 1288.27,168 1288.11,167.5 1287.92,167 1287.69,166.5 1287.43,166 1287.13,165.5 1286.81,165 1286.45,164.5 1286.08,164 1285.69,163.5 1285.28,163 1284.86,162.5 1284.43,162 1283.99,161.5 1283.55,161 1283.11,160.5 1282.67,160 1282.24,159.5 1281.81,159 1281.39,158.5 1280.98,158 1280.59,157.5 1280.21,157 1279.84,156.5 1279.49,156 1279.16,155.5 1278.85,155 1278.56,154.5 1278.29,154 1278.03,153.5 1277.8,153 1277.58,152.5 1277.38,152 1277.2,151.5 1277.04,151 1276.89,150.5 1276.75,150 1276.62,149.5 1276.51,149 1276.41,148.5 1276.31,148 1276.23,147.5 1276.14,147 1276.07,146.5 1275.99,146 1275.92,145.5 1275.85,145 1275.77,144.5 1275.7,144 1275.63,143.5 1275.56,143 1275.48,142.5 1275.41,142 1275.33,141.5 1275.26,141 1275.18,140.5 1275.11,140 1275.04,139.5 1274.97,139 1274.91,138.5 1274.85,138 1274.8,137.5 1274.76,137 1274.74,136.5 1274.72,136 1274.72,135.5 1274.74,135 1274.78,134.5 1274.83,134 1274.9,133.5 1275,133 1275.11,132.5 1275.25,132 1275.42,131.5 1275.61,131 1275.82,130.5 1276.06,130 1276.32,129.5 1276.61,129 1276.92,128.5 1277.25,128 1277.61,127.5 1277.98,127 1278.38,126.5 1278.79,126 1279.22,125.5 1279.66,125 1280.12,124.5 1280.58,124 1281.06,123.5 1281.54,123 1282.03,122.5 1282.52,122 1283.01,121.5 1283.5,121 1283.99,120.5 1284.47,120 1284.94,119.5 1285.41,119 1285.87,118.5 1286.32,118 1286.75,117.5 1287.18,117 1287.59,116.5 1287.98,116 1288.37,115.5 1288.73,115 1289.09,114.5 1289.43,114 1289.75,113.5 1290.06,113 1290.36,112.5 1290.64,112 1290.91,111.5 1291.18,111 1291.43,110.5 1291.67,110 1291.9,109.5 1292.13,109 1292.35,108.5 1292.56,108 1292.77,107.5 1292.98,107 1293.19,106.5 1293.39,106Z"/>
<line class="qt" x1="1276.32" y1="136.5" x2="1325.48" y2="136.5"/>
<line class="qt" x1="1255.67" y1="194.5" x2="1346.13" y2="194.5"/>
<line class="med" x1="1269.51" y1="183.3" x2="1332.29" y2="183.3"/>
<circle cx="1300.9" cy="106" r="2.6"/>
<circle cx="1300.9" cy="122.1" r="2.6"/>
<circle cx="1300.9" cy="127.8" r="2.6"/>
<circle cx="1292.1" cy="133.2" r="2.6"/>
<circle cx="1300.9" cy="133.2" r="2.6"/>
<circle cx="1300.9" cy="139.1" r="2.6"/>
<circle cx="1300.9" cy="150.1" r="2.6"/>
<circle cx="1309.7" cy="150.1" r="2.6"/>
<circle cx="1300.9" cy="155.7" r="2.6"/>
<circle cx="1300.9" cy="161.3" r="2.6"/>
<circle cx="1300.9" cy="183" r="2.6"/>
<circle cx="1292.1" cy="188.7" r="2.6"/>
<circle cx="1300.9" cy="188.7" r="2.6"/>
<circle cx="1309.7" cy="188.7" r="2.6"/>
<circle cx="1292.1" cy="194.4" r="2.6"/>
<circle cx="1300.9" cy="194.4" r="2.6"/>
<circle cx="1309.7" cy="194.4" r="2.6"/>
<circle cx="1292.1" cy="200" r="2.6"/>
<circle cx="1300.9" cy="200" r="2.6"/>
<circle cx="1309.7" cy="200" r="2.6"/>
<circle cx="1300.9" cy="227.5" r="2.6"/>
<path class="ax" style="stroke-width:2.9" d="M1064.1,54.55V278.35"/>
<path class="ax" style="stroke-width:2.9" d="M1062.65,56H1397.1"/>
<path class="ax" style="stroke-width:2.8" d="M1395.7,54.55V278.35"/>
<path class="ax" style="stroke-width:2.9" d="M1062.65,276.9H1397.1"/>
<path class="ax" style="stroke-width:2.6" d="M1054.9,276.9H1064.1M1054.9,221.67H1064.1M1054.9,166.45H1064.1M1054.9,111.22H1064.1M1054.9,56H1064.1"/>
<path class="ax" style="stroke-width:2.4" d="M1158.9,276.9V286.1M1300.9,276.9V286.1"/>
<text class="tk" transform="translate(1051.6 282.8) scale(1.045 1)">0</text>
<text class="tk" transform="translate(1051.6 227.57) scale(1.045 1)">10</text>
<text class="tk" transform="translate(1051.6 172.35) scale(1.045 1)">20</text>
<text class="tk" transform="translate(1051.6 117.12) scale(1.045 1)">30</text>
<text class="tk" transform="translate(1051.6 61.9) scale(1.045 1)">40</text>
<text class="xl" transform="translate(1159 303.2) scale(1.045 1)">AD</text>
<text class="xl" transform="translate(1301 303.2) scale(1.045 1)">CD</text>
<text class="yl" transform="translate(1020.6 165.45) rotate(-90) scale(1.035 1)">mg/dL</text>
</g>
<g>
<text class="tt" transform="translate(234.4 412.2) scale(1.045 1)">LDL</text>
<path class="vio" fill="#E9C0FA" d="M173.49,468.5 173.63,469 173.77,469.5 173.91,470 174.04,470.5 174.16,471 174.29,471.5 174.41,472 174.52,472.5 174.63,473 174.74,473.5 174.85,474 174.95,474.5 175.05,475 175.14,475.5 175.23,476 175.33,476.5 175.41,477 175.5,477.5 175.58,478 175.66,478.5 175.74,479 175.81,479.5 175.89,480 175.96,480.5 176.03,481 176.1,481.5 176.16,482 176.22,482.5 176.28,483 176.34,483.5 176.39,484 176.45,484.5 176.49,485 176.54,485.5 176.58,486 176.62,486.5 176.66,487 176.69,487.5 176.72,488 176.74,488.5 176.76,489 176.78,489.5 176.79,490 176.79,490.5 176.8,491 176.79,491.5 176.78,492 176.77,492.5 176.75,493 176.73,493.5 176.7,494 176.66,494.5 176.62,495 176.58,495.5 176.53,496 176.48,496.5 176.42,497 176.36,497.5 176.29,498 176.22,498.5 176.15,499 176.08,499.5 176,500 175.93,500.5 175.85,501 175.77,501.5 175.7,502 175.62,502.5 175.55,503 175.49,503.5 175.42,504 175.36,504.5 175.31,505 175.27,505.5 175.23,506 175.21,506.5 175.19,507 175.18,507.5 175.19,508 175.21,508.5 175.25,509 175.3,509.5 175.37,510 175.46,510.5 175.56,511 175.69,511.5 175.83,512 176,512.5 176.19,513 176.4,513.5 176.63,514 176.89,514.5 177.17,515 177.48,515.5 177.81,516 178.17,516.5 178.55,517 178.95,517.5 179.38,518 179.84,518.5 180.32,519 180.82,519.5 181.35,520 181.89,520.5 182.46,521 183.05,521.5 183.65,522 184.28,522.5 184.92,523 185.58,523.5 186.25,524 186.93,524.5 187.62,525 188.32,525.5 189.03,526 189.74,526.5 190.45,527 191.17,527.5 191.88,528 192.6,528.5 193.3,529 194.01,529.5 194.7,530 195.38,530.5 196.05,531 196.71,531.5 197.35,532 197.97,532.5 198.58,533 199.16,533.5 199.72,534 200.26,534.5 200.77,535 201.25,535.5 201.71,536 202.14,536.5 202.54,537 202.91,537.5 203.25,538 203.55,538.5 203.83,539 204.07,539.5 204.27,540 204.45,540.5 204.59,541 204.7,541.5 204.77,542 204.82,542.5 204.83,543 204.8,543.5 204.75,544 204.66,544.5 204.55,545 204.4,545.5 204.23,546 204.02,546.5 203.79,547 203.54,547.5 203.26,548 202.95,548.5 202.63,549 202.28,549.5 201.91,550 201.53,550.5 201.12,551 200.71,551.5 200.28,552 199.83,552.5 199.38,553 198.92,553.5 198.44,554 197.97,554.5 197.49,555 197.01,555.5 196.52,556 196.04,556.5 195.56,557 195.09,557.5 194.62,558 194.16,558.5 193.71,559 193.28,559.5 192.85,560 192.44,560.5 192.05,561 191.67,561.5 191.32,562 190.98,562.5 190.66,563 190.37,563.5 190.11,564 189.87,564.5 189.65,565 189.47,565.5 189.31,566 189.18,566.5 189.08,567 189.02,567.5 188.98,568 188.98,568.5 189,569 189.06,569.5 189.16,570 189.28,570.5 189.44,571 189.62,571.5 189.84,572 190.09,572.5 190.37,573 190.69,573.5 191.02,574 191.39,574.5 191.79,575 192.21,575.5 192.65,576 193.12,576.5 193.61,577 194.13,577.5 194.66,578 195.21,578.5 195.77,579 196.35,579.5 196.95,580 197.55,580.5 198.16,581 198.78,581.5 199.41,582 200.04,582.5 200.67,583 201.3,583.5 201.93,584 202.55,584.5 203.17,585 203.78,585.5 204.37,586 204.96,586.5 205.53,587 206.08,587.5 206.62,588 207.14,588.5 207.63,589 208.1,589.5 208.54,590 208.96,590.5 209.34,591 209.7,591.5 210.02,592 210.31,592.5 210.57,593 210.79,593.5 210.97,594 211.11,594.5 211.22,595 211.28,595.5 211.3,596 211.28,596.5 211.22,597 211.11,597.5 210.96,598 210.77,598.5 210.54,599 210.26,599.5 209.95,600 209.59,600.5 209.18,601 208.74,601.5 208.26,602 207.74,602.5 207.18,603 206.58,603.5 205.96,604 205.29,604.5 204.6,605 203.87,605.5 203.12,606 202.34,606.5 201.54,607 200.71,607.5 199.87,608 199.01,608.5 198.13,609 197.23,609.5 196.33,610 195.42,610.5 194.5,611 193.58,611.5 192.66,612 191.73,612.5 190.81,613 189.89,613.5 188.98,614 188.08,614.5 187.19,615 186.31,615.5 185.45,616 184.6,616.5 183.78,617 182.97,617.5 182.18,618 181.41,618.5 180.67,619 179.95,619.5 179.25,620 178.58,620.5 177.94,621 177.33,621.5 176.74,622 176.18,622.5 175.65,623 175.15,623.5 174.68,624 174.24,624.5 173.82,625 173.43,625.5 173.07,626 172.74,626.5 172.43,627 172.15,627.5 171.9,628 171.67,628.5 171.46,629 171.28,629.5 171.12,630 170.98,630.5 170.86,631 170.76,631.5 170.68,632 170.62,632.5 170.57,633 170.54,633.5 170.52,634 170.51,634.5 170.51,635 170.52,635.5 170.55,636 170.58,636.5 170.61,637 170.66,637.5 170.7,638 170.75,638.5 170.81,639 170.86,639.5 170.91,640 170.97,640.5 171.02,641 171.07,641.5 171.11,642 171.16,642.5 171.19,643 171.23,643.5 171.25,644 171.27,644.5 171.29,645 171.29,645.5 171.29,646 171.28,646.5 171.28,646.6 158.32,646.6 158.32,646.5 158.31,646 158.31,645.5 158.31,645 158.33,644.5 158.35,644 158.37,643.5 158.41,643 158.44,642.5 158.49,642 158.53,641.5 158.58,641 158.63,640.5 158.69,640 158.74,639.5 158.79,639 158.85,638.5 158.9,638 158.94,637.5 158.99,637 159.02,636.5 159.05,636 159.08,635.5 159.09,635 159.09,634.5 159.08,634 159.06,633.5 159.03,633 158.98,632.5 158.92,632 158.84,631.5 158.74,631 158.62,630.5 158.48,630 158.32,629.5 158.14,629 157.93,628.5 157.7,628 157.45,627.5 157.17,627 156.86,626.5 156.53,626 156.17,625.5 155.78,625 155.36,624.5 154.92,624 154.45,623.5 153.95,623 153.42,622.5 152.86,622 152.27,621.5 151.66,621 151.02,620.5 150.35,620 149.65,619.5 148.93,619 148.19,618.5 147.42,618 146.63,617.5 145.82,617 145,616.5 144.15,616 143.29,615.5 142.41,615 141.52,614.5 140.62,614 139.71,613.5 138.79,613 137.87,612.5 136.94,612 136.02,611.5 135.1,611 134.18,610.5 133.27,610 132.37,609.5 131.47,609 130.59,608.5 129.73,608 128.89,607.5 128.06,607 127.26,606.5 126.48,606 125.73,605.5 125,605 124.31,604.5 123.64,604 123.02,603.5 122.42,603 121.86,602.5 121.34,602 120.86,601.5 120.42,601 120.01,600.5 119.65,600 119.34,599.5 119.06,599 118.83,598.5 118.64,598 118.49,597.5 118.38,597 118.32,596.5 118.3,596 118.32,595.5 118.38,595 118.49,594.5 118.63,594 118.81,593.5 119.03,593 119.29,592.5 119.58,592 119.9,591.5 120.26,591 120.64,590.5 121.06,590 121.5,589.5 121.97,589 122.46,588.5 122.98,588 123.52,587.5 124.07,587 124.64,586.5 125.23,586 125.82,585.5 126.43,585 127.05,584.5 127.67,584 128.3,583.5 128.93,583 129.56,582.5 130.19,582 130.82,581.5 131.44,581 132.05,580.5 132.65,580 133.25,579.5 133.83,579 134.39,578.5 134.94,578 135.47,577.5 135.99,577 136.48,576.5 136.95,576 137.39,575.5 137.81,575 138.21,574.5 138.58,574 138.91,573.5 139.23,573 139.51,572.5 139.76,572 139.98,571.5 140.16,571 140.32,570.5 140.44,570 140.54,569.5 140.6,569 140.62,568.5 140.62,568 140.58,567.5 140.52,567 140.42,566.5 140.29,566 140.13,565.5 139.95,565 139.73,564.5 139.49,564 139.23,563.5 138.94,563 138.62,562.5 138.28,562 137.93,561.5 137.55,561 137.16,560.5 136.75,560 136.32,559.5 135.89,559 135.44,558.5 134.98,558 134.51,557.5 134.04,557 133.56,556.5 133.08,556 132.59,555.5 132.11,555 131.63,554.5 131.16,554 130.68,553.5 130.22,553 129.77,552.5 129.32,552 128.89,551.5 128.48,551 128.07,550.5 127.69,550 127.32,549.5 126.97,549 126.65,548.5 126.34,548 126.06,547.5 125.81,547 125.58,546.5 125.37,546 125.2,545.5 125.05,545 124.94,544.5 124.85,544 124.8,543.5 124.77,543 124.78,542.5 124.83,542 124.9,541.5 125.01,541 125.15,540.5 125.33,540 125.53,539.5 125.77,539 126.05,538.5 126.35,538 126.69,537.5 127.06,537 127.46,536.5 127.89,536 128.35,535.5 128.83,535 129.34,534.5 129.88,534 130.44,533.5 131.02,533 131.63,532.5 132.25,532 132.89,531.5 133.55,531 134.22,530.5 134.9,530 135.59,529.5 136.3,529 137,528.5 137.72,528 138.43,527.5 139.15,527 139.86,526.5 140.57,526 141.28,525.5 141.98,525 142.67,524.5 143.35,524 144.02,523.5 144.68,523 145.32,522.5 145.95,522 146.55,521.5 147.14,521 147.71,520.5 148.25,520 148.78,519.5 149.28,519 149.76,518.5 150.22,518 150.65,517.5 151.05,517 151.43,516.5 151.79,516 152.12,515.5 152.43,515 152.71,514.5 152.97,514 153.2,513.5 153.41,513 153.6,512.5 153.77,512 153.91,511.5 154.04,511 154.14,510.5 154.23,510 154.3,509.5 154.35,509 154.39,508.5 154.41,508 154.42,507.5 154.41,507 154.39,506.5 154.37,506 154.33,505.5 154.29,505 154.24,504.5 154.18,504 154.11,503.5 154.05,503 153.98,502.5 153.9,502 153.83,501.5 153.75,501 153.67,500.5 153.6,500 153.52,499.5 153.45,499 153.38,498.5 153.31,498 153.24,497.5 153.18,497 153.12,496.5 153.07,496 153.02,495.5 152.98,495 152.94,494.5 152.9,494 152.87,493.5 152.85,493 152.83,492.5 152.82,492 152.81,491.5 152.8,491 152.81,490.5 152.81,490 152.82,489.5 152.84,489 152.86,488.5 152.88,488 152.91,487.5 152.94,487 152.98,486.5 153.02,486 153.06,485.5 153.11,485 153.15,484.5 153.21,484 153.26,483.5 153.32,483 153.38,482.5 153.44,482 153.5,481.5 153.57,481 153.64,480.5 153.71,480 153.79,479.5 153.86,479 153.94,478.5 154.02,478 154.1,477.5 154.19,477 154.27,476.5 154.37,476 154.46,475.5 154.55,475 154.65,474.5 154.75,474 154.86,473.5 154.97,473 155.08,472.5 155.19,472 155.31,471.5 155.44,471 155.56,470.5 155.69,470 155.83,469.5 155.97,469 156.11,468.5Z"/>
<line class="qt" x1="130.33" y1="535.5" x2="199.27" y2="535.5"/>
<line class="qt" x1="120.56" y1="598.5" x2="209.04" y2="598.5"/>
<line class="med" x1="137.9" y1="561.5" x2="191.7" y2="561.5"/>
<circle cx="164.8" cy="468.5" r="2.6"/>
<circle cx="164.8" cy="487.5" r="2.6"/>
<circle cx="164.8" cy="501.9" r="2.6"/>
<circle cx="164.8" cy="532" r="2.6"/>
<circle cx="156" cy="535.05" r="2.6"/>
<circle cx="173.6" cy="535.05" r="2.6"/>
<circle cx="164.8" cy="539.4" r="2.6"/>
<circle cx="173.6" cy="546.7" r="2.6"/>
<circle cx="156" cy="549.6" r="2.6"/>
<circle cx="164.8" cy="552.5" r="2.6"/>
<circle cx="164.8" cy="561.2" r="2.6"/>
<circle cx="156" cy="580" r="2.6"/>
<circle cx="173.6" cy="584.35" r="2.6"/>
<circle cx="156" cy="588.75" r="2.6"/>
<circle cx="164.8" cy="593.05" r="2.6"/>
<circle cx="156" cy="598.85" r="2.6"/>
<circle cx="173.6" cy="598.85" r="2.6"/>
<circle cx="164.8" cy="601.65" r="2.6"/>
<circle cx="156" cy="604.55" r="2.6"/>
<circle cx="173.6" cy="607.4" r="2.6"/>
<circle cx="164.8" cy="646.6" r="2.6"/>
<path class="vio" fill="#E9C0FA" d="M314.01,454.1 314.21,454.6 314.4,455.1 314.59,455.6 314.78,456.1 314.96,456.6 315.14,457.1 315.31,457.6 315.48,458.1 315.64,458.6 315.8,459.1 315.95,459.6 316.09,460.1 316.23,460.6 316.35,461.1 316.47,461.6 316.59,462.1 316.69,462.6 316.79,463.1 316.88,463.6 316.96,464.1 317.03,464.6 317.09,465.1 317.15,465.6 317.19,466.1 317.22,466.6 317.25,467.1 317.26,467.6 317.27,468.1 317.26,468.6 317.25,469.1 317.23,469.6 317.19,470.1 317.15,470.6 317.09,471.1 317.03,471.6 316.96,472.1 316.88,472.6 316.78,473.1 316.68,473.6 316.57,474.1 316.46,474.6 316.33,475.1 316.2,475.6 316.06,476.1 315.92,476.6 315.77,477.1 315.61,477.6 315.45,478.1 315.28,478.6 315.11,479.1 314.94,479.6 314.77,480.1 314.59,480.6 314.42,481.1 314.25,481.6 314.07,482.1 313.9,482.6 313.74,483.1 313.57,483.6 313.42,484.1 313.26,484.6 313.12,485.1 312.98,485.6 312.85,486.1 312.73,486.6 312.62,487.1 312.52,487.6 312.44,488.1 312.37,488.6 312.31,489.1 312.26,489.6 312.23,490.1 312.22,490.6 312.22,491.1 312.23,491.6 312.27,492.1 312.32,492.6 312.39,493.1 312.48,493.6 312.59,494.1 312.71,494.6 312.86,495.1 313.02,495.6 313.2,496.1 313.4,496.6 313.61,497.1 313.85,497.6 314.1,498.1 314.37,498.6 314.65,499.1 314.95,499.6 315.26,500.1 315.59,500.6 315.93,501.1 316.29,501.6 316.65,502.1 317.03,502.6 317.41,503.1 317.8,503.6 318.2,504.1 318.6,504.6 319.01,505.1 319.42,505.6 319.83,506.1 320.24,506.6 320.66,507.1 321.07,507.6 321.47,508.1 321.87,508.6 322.27,509.1 322.65,509.6 323.03,510.1 323.4,510.6 323.76,511.1 324.1,511.6 324.43,512.1 324.75,512.6 325.05,513.1 325.34,513.6 325.61,514.1 325.86,514.6 326.1,515.1 326.31,515.6 326.51,516.1 326.69,516.6 326.85,517.1 326.98,517.6 327.1,518.1 327.2,518.6 327.27,519.1 327.33,519.6 327.37,520.1 327.39,520.6 327.38,521.1 327.36,521.6 327.32,522.1 327.27,522.6 327.19,523.1 327.1,523.6 327,524.1 326.88,524.6 326.74,525.1 326.59,525.6 326.43,526.1 326.26,526.6 326.08,527.1 325.89,527.6 325.69,528.1 325.48,528.6 325.27,529.1 325.05,529.6 324.83,530.1 324.61,530.6 324.39,531.1 324.16,531.6 323.94,532.1 323.72,532.6 323.51,533.1 323.3,533.6 323.09,534.1 322.9,534.6 322.71,535.1 322.53,535.6 322.36,536.1 322.21,536.6 322.07,537.1 321.94,537.6 321.83,538.1 321.74,538.6 321.66,539.1 321.6,539.6 321.56,540.1 321.54,540.6 321.54,541.1 321.57,541.6 321.61,542.1 321.68,542.6 321.77,543.1 321.89,543.6 322.03,544.1 322.19,544.6 322.38,545.1 322.59,545.6 322.83,546.1 323.09,546.6 323.38,547.1 323.69,547.6 324.03,548.1 324.39,548.6 324.77,549.1 325.18,549.6 325.61,550.1 326.06,550.6 326.54,551.1 327.03,551.6 327.54,552.1 328.07,552.6 328.62,553.1 329.19,553.6 329.77,554.1 330.36,554.6 330.97,555.1 331.59,555.6 332.22,556.1 332.86,556.6 333.51,557.1 334.16,557.6 334.82,558.1 335.48,558.6 336.14,559.1 336.8,559.6 337.47,560.1 338.13,560.6 338.78,561.1 339.43,561.6 340.08,562.1 340.72,562.6 341.34,563.1 341.96,563.6 342.57,564.1 343.16,564.6 343.73,565.1 344.29,565.6 344.84,566.1 345.37,566.6 345.87,567.1 346.36,567.6 346.83,568.1 347.27,568.6 347.69,569.1 348.09,569.6 348.46,570.1 348.81,570.6 349.13,571.1 349.42,571.6 349.69,572.1 349.93,572.6 350.14,573.1 350.32,573.6 350.47,574.1 350.6,574.6 350.69,575.1 350.76,575.6 350.79,576.1 350.8,576.6 350.78,577.1 350.72,577.6 350.64,578.1 350.53,578.6 350.39,579.1 350.23,579.6 350.03,580.1 349.81,580.6 349.56,581.1 349.29,581.6 348.99,582.1 348.67,582.6 348.32,583.1 347.96,583.6 347.57,584.1 347.15,584.6 346.72,585.1 346.27,585.6 345.81,586.1 345.32,586.6 344.82,587.1 344.31,587.6 343.78,588.1 343.24,588.6 342.69,589.1 342.13,589.6 341.57,590.1 340.99,590.6 340.41,591.1 339.82,591.6 339.23,592.1 338.63,592.6 338.03,593.1 337.43,593.6 336.83,594.1 336.23,594.6 335.64,595.1 335.04,595.6 334.44,596.1 333.85,596.6 333.26,597.1 332.68,597.6 332.1,598.1 331.53,598.6 330.96,599.1 330.4,599.6 329.84,600.1 329.29,600.6 328.75,601.1 328.21,601.6 327.68,602.1 327.16,602.6 326.64,603.1 326.13,603.6 325.63,604.1 325.13,604.6 324.64,605.1 324.16,605.6 323.68,606.1 323.21,606.6 322.74,607.1 322.28,607.6 321.83,608.1 321.38,608.6 320.94,609.1 320.5,609.6 320.07,610.1 319.64,610.6 319.22,611.1 318.8,611.6 318.55,611.9 290.25,611.9 290,611.6 289.58,611.1 289.16,610.6 288.73,610.1 288.3,609.6 287.86,609.1 287.42,608.6 286.97,608.1 286.52,607.6 286.06,607.1 285.59,606.6 285.12,606.1 284.64,605.6 284.16,605.1 283.67,604.6 283.17,604.1 282.67,603.6 282.16,603.1 281.64,602.6 281.12,602.1 280.59,601.6 280.05,601.1 279.51,600.6 278.96,600.1 278.4,599.6 277.84,599.1 277.27,598.6 276.7,598.1 276.12,597.6 275.54,597.1 274.95,596.6 274.36,596.1 273.76,595.6 273.16,595.1 272.57,594.6 271.97,594.1 271.37,593.6 270.77,593.1 270.17,592.6 269.57,592.1 268.98,591.6 268.39,591.1 267.81,590.6 267.23,590.1 266.67,589.6 266.11,589.1 265.56,588.6 265.02,588.1 264.49,587.6 263.98,587.1 263.48,586.6 262.99,586.1 262.53,585.6 262.08,585.1 261.65,584.6 261.23,584.1 260.84,583.6 260.48,583.1 260.13,582.6 259.81,582.1 259.51,581.6 259.24,581.1 258.99,580.6 258.77,580.1 258.57,579.6 258.41,579.1 258.27,578.6 258.16,578.1 258.08,577.6 258.02,577.1 258,576.6 258.01,576.1 258.04,575.6 258.11,575.1 258.2,574.6 258.33,574.1 258.48,573.6 258.66,573.1 258.87,572.6 259.11,572.1 259.38,571.6 259.67,571.1 259.99,570.6 260.34,570.1 260.71,569.6 261.11,569.1 261.53,568.6 261.97,568.1 262.44,567.6 262.93,567.1 263.43,566.6 263.96,566.1 264.51,565.6 265.07,565.1 265.64,564.6 266.23,564.1 266.84,563.6 267.46,563.1 268.08,562.6 268.72,562.1 269.37,561.6 270.02,561.1 270.67,560.6 271.33,560.1 272,559.6 272.66,559.1 273.32,558.6 273.98,558.1 274.64,557.6 275.29,557.1 275.94,556.6 276.58,556.1 277.21,555.6 277.83,555.1 278.44,554.6 279.03,554.1 279.61,553.6 280.18,553.1 280.73,552.6 281.26,552.1 281.77,551.6 282.26,551.1 282.74,550.6 283.19,550.1 283.62,549.6 284.03,549.1 284.41,548.6 284.77,548.1 285.11,547.6 285.42,547.1 285.71,546.6 285.97,546.1 286.21,545.6 286.42,545.1 286.61,544.6 286.77,544.1 286.91,543.6 287.03,543.1 287.12,542.6 287.19,542.1 287.23,541.6 287.26,541.1 287.26,540.6 287.24,540.1 287.2,539.6 287.14,539.1 287.06,538.6 286.97,538.1 286.86,537.6 286.73,537.1 286.59,536.6 286.44,536.1 286.27,535.6 286.09,535.1 285.9,534.6 285.71,534.1 285.5,533.6 285.29,533.1 285.08,532.6 284.86,532.1 284.64,531.6 284.41,531.1 284.19,530.6 283.97,530.1 283.75,529.6 283.53,529.1 283.32,528.6 283.11,528.1 282.91,527.6 282.72,527.1 282.54,526.6 282.37,526.1 282.21,525.6 282.06,525.1 281.92,524.6 281.8,524.1 281.7,523.6 281.61,523.1 281.53,522.6 281.48,522.1 281.44,521.6 281.42,521.1 281.41,520.6 281.43,520.1 281.47,519.6 281.53,519.1 281.6,518.6 281.7,518.1 281.82,517.6 281.95,517.1 282.11,516.6 282.29,516.1 282.49,515.6 282.7,515.1 282.94,514.6 283.19,514.1 283.46,513.6 283.75,513.1 284.05,512.6 284.37,512.1 284.7,511.6 285.04,511.1 285.4,510.6 285.77,510.1 286.15,509.6 286.53,509.1 286.93,508.6 287.33,508.1 287.73,507.6 288.14,507.1 288.56,506.6 288.97,506.1 289.38,505.6 289.79,505.1 290.2,504.6 290.6,504.1 291,503.6 291.39,503.1 291.77,502.6 292.15,502.1 292.51,501.6 292.87,501.1 293.21,500.6 293.54,500.1 293.85,499.6 294.15,499.1 294.43,498.6 294.7,498.1 294.95,497.6 295.19,497.1 295.4,496.6 295.6,496.1 295.78,495.6 295.94,495.1 296.09,494.6 296.21,494.1 296.32,493.6 296.41,493.1 296.48,492.6 296.53,492.1 296.57,491.6 296.58,491.1 296.58,490.6 296.57,490.1 296.54,489.6 296.49,489.1 296.43,488.6 296.36,488.1 296.28,487.6 296.18,487.1 296.07,486.6 295.95,486.1 295.82,485.6 295.68,485.1 295.54,484.6 295.38,484.1 295.23,483.6 295.06,483.1 294.9,482.6 294.73,482.1 294.55,481.6 294.38,481.1 294.21,480.6 294.03,480.1 293.86,479.6 293.69,479.1 293.52,478.6 293.35,478.1 293.19,477.6 293.03,477.1 292.88,476.6 292.74,476.1 292.6,475.6 292.47,475.1 292.34,474.6 292.23,474.1 292.12,473.6 292.02,473.1 291.92,472.6 291.84,472.1 291.77,471.6 291.71,471.1 291.65,470.6 291.61,470.1 291.57,469.6 291.55,469.1 291.54,468.6 291.53,468.1 291.54,467.6 291.55,467.1 291.58,466.6 291.61,466.1 291.65,465.6 291.71,465.1 291.77,464.6 291.84,464.1 291.92,463.6 292.01,463.1 292.11,462.6 292.21,462.1 292.33,461.6 292.45,461.1 292.57,460.6 292.71,460.1 292.85,459.6 293,459.1 293.16,458.6 293.32,458.1 293.49,457.6 293.66,457.1 293.84,456.6 294.02,456.1 294.21,455.6 294.4,455.1 294.59,454.6 294.79,454.1Z"/>
<line class="qt" x1="284.35" y1="515.5" x2="324.45" y2="515.5"/>
<line class="qt" x1="261.28" y1="581.5" x2="347.52" y2="581.5"/>
<line class="med" x1="266.55" y1="564.3" x2="342.25" y2="564.3"/>
<circle cx="304.4" cy="454.1" r="2.6"/>
<circle cx="304.4" cy="468.6" r="2.6"/>
<circle cx="304.4" cy="477.4" r="2.6"/>
<circle cx="304.4" cy="514.7" r="2.6"/>
<circle cx="313.2" cy="514.7" r="2.6"/>
<circle cx="295.6" cy="516.2" r="2.6"/>
<circle cx="304.4" cy="527.9" r="2.6"/>
<circle cx="304.4" cy="535" r="2.6"/>
<circle cx="304.4" cy="556.85" r="2.6"/>
<circle cx="295.6" cy="564" r="2.6"/>
<circle cx="313.2" cy="564" r="2.6"/>
<circle cx="304.4" cy="566.9" r="2.6"/>
<circle cx="304.4" cy="574.1" r="2.6"/>
<circle cx="295.6" cy="575.6" r="2.6"/>
<circle cx="304.4" cy="580" r="2.6"/>
<circle cx="295.6" cy="581.3" r="2.6"/>
<circle cx="313.2" cy="582.7" r="2.6"/>
<circle cx="304.4" cy="587.6" r="2.6"/>
<circle cx="304.4" cy="592.8" r="2.6"/>
<circle cx="304.4" cy="603.1" r="2.6"/>
<circle cx="304.4" cy="611.9" r="2.6"/>
<path class="ax" style="stroke-width:2.2" d="M72,440.85V660.35"/>
<path class="ax" style="stroke-width:2.5" d="M70.9,442.1H398.95"/>
<path class="ax" style="stroke-width:2.9" d="M397.5,440.85V660.35"/>
<path class="ax" style="stroke-width:2.3" d="M70.9,659.2H398.95"/>
<path class="ax" style="stroke-width:2.2" d="M62.8,659.2H72M62.8,586.83H72M62.8,514.47H72M62.8,442.1H72"/>
<path class="ax" style="stroke-width:2.4" d="M164.8,659.2V668.4M304.4,659.2V668.4"/>
<text class="tk" transform="translate(59.5 665.1) scale(1.045 1)">0</text>
<text class="tk" transform="translate(59.5 592.73) scale(1.045 1)">50</text>
<text class="tk" transform="translate(59.5 520.37) scale(1.045 1)">100</text>
<text class="tk" transform="translate(59.5 448) scale(1.045 1)">150</text>
<text class="xl" transform="translate(164.9 685.5) scale(1.045 1)">AD</text>
<text class="xl" transform="translate(304.5 685.5) scale(1.045 1)">CD</text>
<text class="yl" transform="translate(21.9 549.65) rotate(-90) scale(1.035 1)">mg/dL</text>
</g>
<g>
<text class="tt" transform="translate(727.05 412.2) scale(1.045 1)">HDL</text>
<path class="vio" fill="#FEEBDD" d="M689.9,481.1 690.96,481.6 691.98,482.1 692.98,482.6 693.95,483.1 694.88,483.6 695.77,484.1 696.63,484.6 697.44,485.1 698.21,485.6 698.93,486.1 699.6,486.6 700.23,487.1 700.8,487.6 701.32,488.1 701.78,488.6 702.19,489.1 702.55,489.6 702.84,490.1 703.08,490.6 703.26,491.1 703.38,491.6 703.44,492.1 703.44,492.6 703.38,493.1 703.26,493.6 703.09,494.1 702.85,494.6 702.56,495.1 702.21,495.6 701.8,496.1 701.35,496.6 700.84,497.1 700.29,497.6 699.7,498.1 699.06,498.6 698.38,499.1 697.67,499.6 696.93,500.1 696.16,500.6 695.37,501.1 694.56,501.6 693.74,502.1 692.9,502.6 692.06,503.1 691.21,503.6 690.37,504.1 689.53,504.6 688.7,505.1 687.88,505.6 687.07,506.1 686.28,506.6 685.52,507.1 684.77,507.6 684.05,508.1 683.36,508.6 682.69,509.1 682.05,509.6 681.45,510.1 680.87,510.6 680.32,511.1 679.81,511.6 679.33,512.1 678.88,512.6 678.46,513.1 678.08,513.6 677.73,514.1 677.41,514.6 677.12,515.1 676.87,515.6 676.64,516.1 676.45,516.6 676.29,517.1 676.16,517.6 676.07,518.1 676,518.6 675.97,519.1 675.97,519.6 676.01,520.1 676.07,520.6 676.17,521.1 676.3,521.6 676.46,522.1 676.66,522.6 676.89,523.1 677.14,523.6 677.43,524.1 677.75,524.6 678.1,525.1 678.48,525.6 678.88,526.1 679.31,526.6 679.76,527.1 680.24,527.6 680.73,528.1 681.23,528.6 681.75,529.1 682.28,529.6 682.81,530.1 683.35,530.6 683.9,531.1 684.43,531.6 684.97,532.1 685.49,532.6 686.01,533.1 686.51,533.6 686.99,534.1 687.46,534.6 687.9,535.1 688.32,535.6 688.72,536.1 689.1,536.6 689.44,537.1 689.76,537.6 690.05,538.1 690.32,538.6 690.56,539.1 690.77,539.6 690.96,540.1 691.12,540.6 691.26,541.1 691.38,541.6 691.48,542.1 691.56,542.6 691.63,543.1 691.68,543.6 691.71,544.1 691.73,544.6 691.74,545.1 691.73,545.6 691.72,546.1 691.7,546.6 691.67,547.1 691.62,547.6 691.57,548.1 691.51,548.6 691.44,549.1 691.36,549.6 691.27,550.1 691.17,550.6 691.05,551.1 690.93,551.6 690.78,552.1 690.63,552.6 690.45,553.1 690.26,553.6 690.06,554.1 689.83,554.6 689.59,555.1 689.33,555.6 689.05,556.1 688.75,556.6 688.44,557.1 688.1,557.6 687.75,558.1 687.37,558.6 686.98,559.1 686.58,559.6 686.16,560.1 685.72,560.6 685.27,561.1 684.8,561.6 684.33,562.1 683.84,562.6 683.34,563.1 682.83,563.6 682.31,564.1 681.79,564.6 681.25,565.1 680.71,565.6 680.16,566.1 679.61,566.6 679.06,567.1 678.49,567.6 677.93,568.1 677.36,568.6 676.79,569.1 676.22,569.6 675.64,570.1 675.07,570.6 674.49,571.1 673.91,571.6 673.33,572.1 672.75,572.6 672.18,573.1 671.72,573.5 642.28,573.5 641.82,573.1 641.25,572.6 640.67,572.1 640.09,571.6 639.51,571.1 638.93,570.6 638.36,570.1 637.78,569.6 637.21,569.1 636.64,568.6 636.07,568.1 635.51,567.6 634.94,567.1 634.39,566.6 633.84,566.1 633.29,565.6 632.75,565.1 632.21,564.6 631.69,564.1 631.17,563.6 630.66,563.1 630.16,562.6 629.67,562.1 629.2,561.6 628.73,561.1 628.28,560.6 627.84,560.1 627.42,559.6 627.02,559.1 626.63,558.6 626.25,558.1 625.9,557.6 625.56,557.1 625.25,556.6 624.95,556.1 624.67,555.6 624.41,555.1 624.17,554.6 623.94,554.1 623.74,553.6 623.55,553.1 623.37,552.6 623.22,552.1 623.07,551.6 622.95,551.1 622.83,550.6 622.73,550.1 622.64,549.6 622.56,549.1 622.49,548.6 622.43,548.1 622.38,547.6 622.33,547.1 622.3,546.6 622.28,546.1 622.27,545.6 622.26,545.1 622.27,544.6 622.29,544.1 622.32,543.6 622.37,543.1 622.44,542.6 622.52,542.1 622.62,541.6 622.74,541.1 622.88,540.6 623.04,540.1 623.23,539.6 623.44,539.1 623.68,538.6 623.95,538.1 624.24,537.6 624.56,537.1 624.9,536.6 625.28,536.1 625.68,535.6 626.1,535.1 626.54,534.6 627.01,534.1 627.49,533.6 627.99,533.1 628.51,532.6 629.03,532.1 629.57,531.6 630.1,531.1 630.65,530.6 631.19,530.1 631.72,529.6 632.25,529.1 632.77,528.6 633.27,528.1 633.76,527.6 634.24,527.1 634.69,526.6 635.12,526.1 635.52,525.6 635.9,525.1 636.25,524.6 636.57,524.1 636.86,523.6 637.11,523.1 637.34,522.6 637.54,522.1 637.7,521.6 637.83,521.1 637.93,520.6 637.99,520.1 638.03,519.6 638.03,519.1 638,518.6 637.93,518.1 637.84,517.6 637.71,517.1 637.55,516.6 637.36,516.1 637.13,515.6 636.88,515.1 636.59,514.6 636.27,514.1 635.92,513.6 635.54,513.1 635.12,512.6 634.67,512.1 634.19,511.6 633.68,511.1 633.13,510.6 632.55,510.1 631.95,509.6 631.31,509.1 630.64,508.6 629.95,508.1 629.23,507.6 628.48,507.1 627.72,506.6 626.93,506.1 626.12,505.6 625.3,505.1 624.47,504.6 623.63,504.1 622.79,503.6 621.94,503.1 621.1,502.6 620.26,502.1 619.44,501.6 618.63,501.1 617.84,500.6 617.07,500.1 616.33,499.6 615.62,499.1 614.94,498.6 614.3,498.1 613.71,497.6 613.16,497.1 612.65,496.6 612.2,496.1 611.79,495.6 611.44,495.1 611.15,494.6 610.91,494.1 610.74,493.6 610.62,493.1 610.56,492.6 610.56,492.1 610.62,491.6 610.74,491.1 610.92,490.6 611.16,490.1 611.45,489.6 611.81,489.1 612.22,488.6 612.68,488.1 613.2,487.6 613.77,487.1 614.4,486.6 615.07,486.1 615.79,485.6 616.56,485.1 617.37,484.6 618.23,484.1 619.12,483.6 620.05,483.1 621.02,482.6 622.02,482.1 623.04,481.6 624.1,481.1Z"/>
<line class="qt" x1="612.26" y1="493.5" x2="701.74" y2="493.5"/>
<line class="qt" x1="624.39" y1="550.5" x2="689.61" y2="550.5"/>
<line class="med" x1="638.23" y1="519.7" x2="675.77" y2="519.7"/>
<circle cx="648.2" cy="481.1" r="2.6"/>
<circle cx="665.8" cy="481.1" r="2.6"/>
<circle cx="657" cy="483.9" r="2.6"/>
<circle cx="665.8" cy="489.5" r="2.6"/>
<circle cx="657" cy="492.1" r="2.6"/>
<circle cx="648.2" cy="494.8" r="2.6"/>
<circle cx="657" cy="497.4" r="2.6"/>
<circle cx="665.8" cy="497.4" r="2.6"/>
<circle cx="657" cy="502.9" r="2.6"/>
<circle cx="657" cy="511.15" r="2.6"/>
<circle cx="657" cy="519.45" r="2.6"/>
<circle cx="657" cy="530.2" r="2.6"/>
<circle cx="648.2" cy="538.25" r="2.6"/>
<circle cx="657" cy="538.25" r="2.6"/>
<circle cx="665.8" cy="538.25" r="2.6"/>
<circle cx="657" cy="549.05" r="2.6"/>
<circle cx="665.8" cy="551.8" r="2.6"/>
<circle cx="657" cy="554.5" r="2.6"/>
<circle cx="657" cy="559.9" r="2.6"/>
<circle cx="657" cy="565.3" r="2.6"/>
<circle cx="657" cy="573.5" r="2.6"/>
<path class="vio" fill="#FEEBDD" d="M803.1,456.8 803.12,457.3 803.13,457.8 803.13,458.3 803.12,458.8 803.09,459.3 803.05,459.8 803.01,460.3 802.96,460.8 802.9,461.3 802.84,461.8 802.78,462.3 802.71,462.8 802.65,463.3 802.59,463.8 802.54,464.3 802.49,464.8 802.45,465.3 802.42,465.8 802.4,466.3 802.39,466.8 802.4,467.3 802.42,467.8 802.46,468.3 802.51,468.8 802.59,469.3 802.67,469.8 802.78,470.3 802.91,470.8 803.05,471.3 803.21,471.8 803.39,472.3 803.59,472.8 803.8,473.3 804.02,473.8 804.26,474.3 804.51,474.8 804.77,475.3 805.05,475.8 805.32,476.3 805.61,476.8 805.9,477.3 806.19,477.8 806.49,478.3 806.78,478.8 807.08,479.3 807.37,479.8 807.65,480.3 807.93,480.8 808.21,481.3 808.48,481.8 808.73,482.3 808.98,482.8 809.22,483.3 809.46,483.8 809.68,484.3 809.89,484.8 810.09,485.3 810.28,485.8 810.46,486.3 810.64,486.8 810.8,487.3 810.96,487.8 811.12,488.3 811.27,488.8 811.41,489.3 811.55,489.8 811.69,490.3 811.83,490.8 811.98,491.3 812.12,491.8 812.27,492.3 812.42,492.8 812.58,493.3 812.75,493.8 812.93,494.3 813.11,494.8 813.31,495.3 813.52,495.8 813.74,496.3 813.97,496.8 814.21,497.3 814.47,497.8 814.74,498.3 815.03,498.8 815.33,499.3 815.64,499.8 815.96,500.3 816.3,500.8 816.65,501.3 817,501.8 817.37,502.3 817.75,502.8 818.13,503.3 818.52,503.8 818.91,504.3 819.31,504.8 819.71,505.3 820.1,505.8 820.5,506.3 820.89,506.8 821.27,507.3 821.65,507.8 822.02,508.3 822.37,508.8 822.71,509.3 823.04,509.8 823.35,510.3 823.63,510.8 823.9,511.3 824.14,511.8 824.35,512.3 824.54,512.8 824.7,513.3 824.83,513.8 824.93,514.3 824.99,514.8 825.03,515.3 825.03,515.8 824.99,516.3 824.93,516.8 824.83,517.3 824.7,517.8 824.54,518.3 824.35,518.8 824.13,519.3 823.89,519.8 823.62,520.3 823.33,520.8 823.02,521.3 822.7,521.8 822.37,522.3 822.03,522.8 821.69,523.3 821.35,523.8 821.01,524.3 820.68,524.8 820.36,525.3 820.06,525.8 819.78,526.3 819.52,526.8 819.29,527.3 819.09,527.8 818.92,528.3 818.79,528.8 818.7,529.3 818.66,529.8 818.66,530.3 818.7,530.8 818.79,531.3 818.93,531.8 819.12,532.3 819.35,532.8 819.63,533.3 819.96,533.8 820.34,534.3 820.76,534.8 821.22,535.3 821.73,535.8 822.28,536.3 822.86,536.8 823.47,537.3 824.12,537.8 824.79,538.3 825.49,538.8 826.22,539.3 826.96,539.8 827.71,540.3 828.48,540.8 829.26,541.3 830.04,541.8 830.82,542.3 831.6,542.8 832.38,543.3 833.15,543.8 833.91,544.3 834.65,544.8 835.38,545.3 836.09,545.8 836.78,546.3 837.44,546.8 838.07,547.3 838.68,547.8 839.25,548.3 839.78,548.8 840.29,549.3 840.75,549.8 841.17,550.3 841.55,550.8 841.88,551.3 842.17,551.8 842.42,552.3 842.61,552.8 842.76,553.3 842.85,553.8 842.9,554.3 842.89,554.8 842.83,555.3 842.71,555.8 842.55,556.3 842.32,556.8 842.05,557.3 841.72,557.8 841.34,558.3 840.9,558.8 840.42,559.3 839.88,559.8 839.3,560.3 838.66,560.8 837.98,561.3 837.26,561.8 836.5,562.3 835.69,562.8 834.85,563.3 833.98,563.8 833.08,564.3 832.15,564.8 831.19,565.3 830.22,565.8 829.23,566.3 828.22,566.8 827.21,567.3 826.2,567.8 825.18,568.3 824.17,568.8 823.16,569.3 822.16,569.8 821.18,570.3 820.22,570.8 819.27,571.3 818.35,571.8 817.46,572.3 816.59,572.8 815.75,573.3 814.95,573.8 814.18,574.3 813.44,574.8 812.74,575.3 812.07,575.8 811.44,576.3 810.84,576.8 810.28,577.3 809.75,577.8 809.25,578.3 808.78,578.8 808.34,579.3 807.92,579.8 807.53,580.3 807.17,580.8 806.82,581.3 806.49,581.8 806.18,582.3 805.89,582.8 805.6,583.3 805.33,583.8 805.12,584.2 788.48,584.2 788.27,583.8 788,583.3 787.71,582.8 787.42,582.3 787.11,581.8 786.78,581.3 786.43,580.8 786.07,580.3 785.68,579.8 785.26,579.3 784.82,578.8 784.35,578.3 783.85,577.8 783.32,577.3 782.76,576.8 782.16,576.3 781.53,575.8 780.86,575.3 780.16,574.8 779.42,574.3 778.65,573.8 777.85,573.3 777.01,572.8 776.14,572.3 775.25,571.8 774.33,571.3 773.38,570.8 772.42,570.3 771.44,569.8 770.44,569.3 769.43,568.8 768.42,568.3 767.4,567.8 766.39,567.3 765.38,566.8 764.37,566.3 763.38,565.8 762.41,565.3 761.45,564.8 760.52,564.3 759.62,563.8 758.75,563.3 757.91,562.8 757.1,562.3 756.34,561.8 755.62,561.3 754.94,560.8 754.3,560.3 753.72,559.8 753.18,559.3 752.7,558.8 752.26,558.3 751.88,557.8 751.55,557.3 751.28,556.8 751.05,556.3 750.89,555.8 750.77,555.3 750.71,554.8 750.7,554.3 750.75,553.8 750.84,553.3 750.99,552.8 751.18,552.3 751.43,551.8 751.72,551.3 752.05,550.8 752.43,550.3 752.85,549.8 753.31,549.3 753.82,548.8 754.35,548.3 754.92,547.8 755.53,547.3 756.16,546.8 756.82,546.3 757.51,545.8 758.22,545.3 758.95,544.8 759.69,544.3 760.45,543.8 761.22,543.3 762,542.8 762.78,542.3 763.56,541.8 764.34,541.3 765.12,540.8 765.89,540.3 766.64,539.8 767.38,539.3 768.11,538.8 768.81,538.3 769.48,537.8 770.13,537.3 770.74,536.8 771.32,536.3 771.87,535.8 772.38,535.3 772.84,534.8 773.26,534.3 773.64,533.8 773.97,533.3 774.25,532.8 774.48,532.3 774.67,531.8 774.81,531.3 774.9,530.8 774.94,530.3 774.94,529.8 774.9,529.3 774.81,528.8 774.68,528.3 774.51,527.8 774.31,527.3 774.08,526.8 773.82,526.3 773.54,525.8 773.24,525.3 772.92,524.8 772.59,524.3 772.25,523.8 771.91,523.3 771.57,522.8 771.23,522.3 770.9,521.8 770.58,521.3 770.27,520.8 769.98,520.3 769.71,519.8 769.47,519.3 769.25,518.8 769.06,518.3 768.9,517.8 768.77,517.3 768.67,516.8 768.61,516.3 768.57,515.8 768.57,515.3 768.61,514.8 768.67,514.3 768.77,513.8 768.9,513.3 769.06,512.8 769.25,512.3 769.46,511.8 769.7,511.3 769.97,510.8 770.25,510.3 770.56,509.8 770.89,509.3 771.23,508.8 771.58,508.3 771.95,507.8 772.33,507.3 772.71,506.8 773.1,506.3 773.5,505.8 773.89,505.3 774.29,504.8 774.69,504.3 775.08,503.8 775.47,503.3 775.85,502.8 776.23,502.3 776.6,501.8 776.95,501.3 777.3,500.8 777.64,500.3 777.96,499.8 778.27,499.3 778.57,498.8 778.86,498.3 779.13,497.8 779.39,497.3 779.63,496.8 779.86,496.3 780.08,495.8 780.29,495.3 780.49,494.8 780.67,494.3 780.85,493.8 781.02,493.3 781.18,492.8 781.33,492.3 781.48,491.8 781.62,491.3 781.77,490.8 781.91,490.3 782.05,489.8 782.19,489.3 782.33,488.8 782.48,488.3 782.64,487.8 782.8,487.3 782.96,486.8 783.14,486.3 783.32,485.8 783.51,485.3 783.71,484.8 783.92,484.3 784.14,483.8 784.38,483.3 784.62,482.8 784.87,482.3 785.12,481.8 785.39,481.3 785.67,480.8 785.95,480.3 786.23,479.8 786.52,479.3 786.82,478.8 787.11,478.3 787.41,477.8 787.7,477.3 787.99,476.8 788.28,476.3 788.55,475.8 788.83,475.3 789.09,474.8 789.34,474.3 789.58,473.8 789.8,473.3 790.01,472.8 790.21,472.3 790.39,471.8 790.55,471.3 790.69,470.8 790.82,470.3 790.93,469.8 791.01,469.3 791.09,468.8 791.14,468.3 791.18,467.8 791.2,467.3 791.21,466.8 791.2,466.3 791.18,465.8 791.15,465.3 791.11,464.8 791.06,464.3 791.01,463.8 790.95,463.3 790.89,462.8 790.82,462.3 790.76,461.8 790.7,461.3 790.64,460.8 790.59,460.3 790.55,459.8 790.51,459.3 790.48,458.8 790.47,458.3 790.47,457.8 790.48,457.3 790.5,456.8Z"/>
<line class="qt" x1="772.16" y1="509.5" x2="821.44" y2="509.5"/>
<line class="qt" x1="752.93" y1="556.5" x2="840.67" y2="556.5"/>
<line class="med" x1="765.47" y1="541" x2="828.13" y2="541"/>
<circle cx="796.8" cy="456.8" r="2.6"/>
<circle cx="796.8" cy="481.2" r="2.6"/>
<circle cx="796.8" cy="489.3" r="2.6"/>
<circle cx="796.8" cy="500.1" r="2.6"/>
<circle cx="805.6" cy="508.35" r="2.6"/>
<circle cx="788" cy="511" r="2.6"/>
<circle cx="788" cy="519.15" r="2.6"/>
<circle cx="805.6" cy="519.15" r="2.6"/>
<circle cx="796.8" cy="521.9" r="2.6"/>
<circle cx="788" cy="538" r="2.6"/>
<circle cx="796.8" cy="540.7" r="2.6"/>
<circle cx="788" cy="546.2" r="2.6"/>
<circle cx="796.8" cy="548.9" r="2.6"/>
<circle cx="788" cy="551.6" r="2.6"/>
<circle cx="796.8" cy="554.4" r="2.6"/>
<circle cx="805.6" cy="554.4" r="2.6"/>
<circle cx="788" cy="559.8" r="2.6"/>
<circle cx="796.8" cy="562.6" r="2.6"/>
<circle cx="788" cy="565.25" r="2.6"/>
<circle cx="805.6" cy="565.25" r="2.6"/>
<circle cx="796.8" cy="584.2" r="2.6"/>
<path class="ax" style="stroke-width:2.2" d="M564.2,441.8V661.1"/>
<path class="ax" style="stroke-width:2.4" d="M563.1,443H890.9"/>
<path class="ax" style="stroke-width:2.0" d="M889.9,441.8V661.1"/>
<path class="ax" style="stroke-width:2.4" d="M563.1,659.9H890.9"/>
<path class="ax" style="stroke-width:2.2" d="M555,659.9H564.2M555,605.67H564.2M555,551.45H564.2M555,497.23H564.2M555,443H564.2"/>
<path class="ax" style="stroke-width:2.4" d="M657,659.9V669.1M796.8,659.9V669.1"/>
<text class="tk" transform="translate(551.7 665.8) scale(1.045 1)">0</text>
<text class="tk" transform="translate(551.7 611.57) scale(1.045 1)">20</text>
<text class="tk" transform="translate(551.7 557.35) scale(1.045 1)">40</text>
<text class="tk" transform="translate(551.7 503.12) scale(1.045 1)">60</text>
<text class="tk" transform="translate(551.7 448.9) scale(1.045 1)">80</text>
<text class="xl" transform="translate(657.1 686.2) scale(1.045 1)">AD</text>
<text class="xl" transform="translate(796.9 686.2) scale(1.045 1)">CD</text>
<text class="yl" transform="translate(521.1 550.45) rotate(-90) scale(1.035 1)">mg/dL</text>
</g>
<g>
<text class="tt" transform="translate(1238.35 412.9) scale(1.045 1)">Lp(a)</text>
<path class="vio" fill="#BFF8BF" d="M1173.85,518.2 1173.93,518.7 1174.01,519.2 1174.09,519.7 1174.17,520.2 1174.24,520.7 1174.31,521.2 1174.38,521.7 1174.45,522.2 1174.52,522.7 1174.59,523.2 1174.66,523.7 1174.73,524.2 1174.8,524.7 1174.87,525.2 1174.95,525.7 1175.02,526.2 1175.1,526.7 1175.18,527.2 1175.26,527.7 1175.35,528.2 1175.44,528.7 1175.53,529.2 1175.62,529.7 1175.72,530.2 1175.82,530.7 1175.92,531.2 1176.03,531.7 1176.14,532.2 1176.25,532.7 1176.36,533.2 1176.48,533.7 1176.6,534.2 1176.71,534.7 1176.83,535.2 1176.95,535.7 1177.07,536.2 1177.18,536.7 1177.3,537.2 1177.41,537.7 1177.52,538.2 1177.62,538.7 1177.72,539.2 1177.82,539.7 1177.91,540.2 1177.99,540.7 1178.07,541.2 1178.14,541.7 1178.2,542.2 1178.25,542.7 1178.29,543.2 1178.32,543.7 1178.35,544.2 1178.36,544.7 1178.36,545.2 1178.35,545.7 1178.33,546.2 1178.3,546.7 1178.25,547.2 1178.2,547.7 1178.13,548.2 1178.06,548.7 1177.97,549.2 1177.87,549.7 1177.77,550.2 1177.65,550.7 1177.52,551.2 1177.38,551.7 1177.24,552.2 1177.09,552.7 1176.93,553.2 1176.77,553.7 1176.6,554.2 1176.42,554.7 1176.24,555.2 1176.06,555.7 1175.88,556.2 1175.69,556.7 1175.51,557.2 1175.32,557.7 1175.14,558.2 1174.96,558.7 1174.78,559.2 1174.6,559.7 1174.43,560.2 1174.26,560.7 1174.1,561.2 1173.95,561.7 1173.8,562.2 1173.66,562.7 1173.53,563.2 1173.4,563.7 1173.29,564.2 1173.18,564.7 1173.08,565.2 1173,565.7 1172.92,566.2 1172.85,566.7 1172.79,567.2 1172.74,567.7 1172.71,568.2 1172.68,568.7 1172.66,569.2 1172.65,569.7 1172.64,570.2 1172.65,570.7 1172.67,571.2 1172.69,571.7 1172.72,572.2 1172.76,572.7 1172.81,573.2 1172.86,573.7 1172.92,574.2 1172.98,574.7 1173.05,575.2 1173.13,575.7 1173.2,576.2 1173.28,576.7 1173.37,577.2 1173.46,577.7 1173.55,578.2 1173.64,578.7 1173.73,579.2 1173.82,579.7 1173.92,580.2 1174.01,580.7 1174.11,581.2 1174.21,581.7 1174.3,582.2 1174.4,582.7 1174.49,583.2 1174.59,583.7 1174.68,584.2 1174.78,584.7 1174.87,585.2 1174.97,585.7 1175.06,586.2 1175.15,586.7 1175.25,587.2 1175.34,587.7 1175.44,588.2 1175.53,588.7 1175.63,589.2 1175.72,589.7 1175.82,590.2 1175.92,590.7 1176.02,591.2 1176.13,591.7 1176.24,592.2 1176.34,592.7 1176.46,593.2 1176.57,593.7 1176.69,594.2 1176.81,594.7 1176.94,595.2 1177.06,595.7 1177.2,596.2 1177.33,596.7 1177.48,597.2 1177.62,597.7 1177.77,598.2 1177.93,598.7 1178.08,599.2 1178.25,599.7 1178.41,600.2 1178.59,600.7 1178.76,601.2 1178.94,601.7 1179.13,602.2 1179.31,602.7 1179.51,603.2 1179.7,603.7 1179.9,604.2 1180.11,604.7 1180.31,605.2 1180.52,605.7 1180.74,606.2 1180.95,606.7 1181.17,607.2 1181.4,607.7 1181.62,608.2 1181.85,608.7 1182.09,609.2 1182.32,609.7 1182.56,610.2 1182.8,610.7 1183.04,611.2 1183.29,611.7 1183.54,612.2 1183.79,612.7 1184.04,613.2 1184.3,613.7 1184.56,614.2 1184.82,614.7 1185.09,615.2 1185.36,615.7 1185.64,616.2 1185.91,616.7 1186.19,617.2 1186.48,617.7 1186.77,618.2 1187.06,618.7 1187.36,619.2 1187.66,619.7 1187.96,620.2 1188.28,620.7 1188.59,621.2 1188.91,621.7 1189.24,622.2 1189.58,622.7 1189.92,623.2 1190.26,623.7 1190.61,624.2 1190.97,624.7 1191.34,625.2 1191.71,625.7 1192.09,626.2 1192.47,626.7 1192.86,627.2 1193.26,627.7 1193.67,628.2 1194.09,628.7 1194.51,629.2 1194.94,629.7 1195.38,630.2 1195.82,630.7 1196.27,631.2 1196.73,631.7 1197.19,632.2 1197.66,632.7 1198.14,633.2 1198.62,633.7 1199.11,634.2 1199.61,634.7 1200.1,635.2 1200.61,635.7 1201.11,636.2 1201.62,636.7 1202.13,637.2 1202.65,637.7 1203.16,638.2 1203.68,638.7 1204.19,639.2 1204.71,639.7 1205.22,640.2 1205.73,640.7 1206.23,641.2 1206.73,641.7 1207.22,642.2 1207.71,642.7 1208.19,643.2 1208.66,643.7 1209.12,644.2 1209.57,644.7 1210.01,645.2 1210.44,645.7 1210.85,646.2 1211.24,646.7 1211.62,647.2 1211.98,647.7 1212.33,648.2 1212.65,648.7 1212.95,649.2 1213.23,649.7 1213.49,650.2 1213.72,650.7 1213.93,651.2 1214.11,651.7 1214.26,652.2 1214.39,652.7 1214.49,653.2 1214.56,653.7 1214.59,654.2 1214.6,654.7 1214.57,655.2 1214.51,655.7 1214.42,656.2 1214.3,656.7 1214.14,657.2 1213.94,657.7 1213.71,658.2 1213.45,658.7 1213.15,659.2 1212.82,659.7 1212.45,660.2 1212.05,660.7 1211.61,661.2 1211.14,661.7 1210.63,662.2 1210.1,662.7 1209.53,663.2 1208.93,663.7 1208.3,664.2 1207.64,664.7 1206.95,665.2 1206.24,665.7 1205.5,666.2 1204.74,666.7 1203.96,667.2 1203.15,667.7 1202.66,668 1132.34,668 1131.85,667.7 1131.04,667.2 1130.26,666.7 1129.5,666.2 1128.76,665.7 1128.05,665.2 1127.36,664.7 1126.7,664.2 1126.07,663.7 1125.47,663.2 1124.9,662.7 1124.37,662.2 1123.86,661.7 1123.39,661.2 1122.95,660.7 1122.55,660.2 1122.18,659.7 1121.85,659.2 1121.55,658.7 1121.29,658.2 1121.06,657.7 1120.86,657.2 1120.7,656.7 1120.58,656.2 1120.49,655.7 1120.43,655.2 1120.4,654.7 1120.41,654.2 1120.44,653.7 1120.51,653.2 1120.61,652.7 1120.74,652.2 1120.89,651.7 1121.07,651.2 1121.28,650.7 1121.51,650.2 1121.77,649.7 1122.05,649.2 1122.35,648.7 1122.67,648.2 1123.02,647.7 1123.38,647.2 1123.76,646.7 1124.15,646.2 1124.56,645.7 1124.99,645.2 1125.43,644.7 1125.88,644.2 1126.34,643.7 1126.81,643.2 1127.29,642.7 1127.78,642.2 1128.27,641.7 1128.77,641.2 1129.27,640.7 1129.78,640.2 1130.29,639.7 1130.81,639.2 1131.32,638.7 1131.84,638.2 1132.35,637.7 1132.87,637.2 1133.38,636.7 1133.89,636.2 1134.39,635.7 1134.9,635.2 1135.39,634.7 1135.89,634.2 1136.38,633.7 1136.86,633.2 1137.34,632.7 1137.81,632.2 1138.27,631.7 1138.73,631.2 1139.18,630.7 1139.62,630.2 1140.06,629.7 1140.49,629.2 1140.91,628.7 1141.33,628.2 1141.74,627.7 1142.14,627.2 1142.53,626.7 1142.91,626.2 1143.29,625.7 1143.66,625.2 1144.03,624.7 1144.39,624.2 1144.74,623.7 1145.08,623.2 1145.42,622.7 1145.76,622.2 1146.09,621.7 1146.41,621.2 1146.72,620.7 1147.04,620.2 1147.34,619.7 1147.64,619.2 1147.94,618.7 1148.23,618.2 1148.52,617.7 1148.81,617.2 1149.09,616.7 1149.36,616.2 1149.64,615.7 1149.91,615.2 1150.18,614.7 1150.44,614.2 1150.7,613.7 1150.96,613.2 1151.21,612.7 1151.46,612.2 1151.71,611.7 1151.96,611.2 1152.2,610.7 1152.44,610.2 1152.68,609.7 1152.91,609.2 1153.15,608.7 1153.38,608.2 1153.6,607.7 1153.83,607.2 1154.05,606.7 1154.26,606.2 1154.48,605.7 1154.69,605.2 1154.89,604.7 1155.1,604.2 1155.3,603.7 1155.49,603.2 1155.69,602.7 1155.87,602.2 1156.06,601.7 1156.24,601.2 1156.41,600.7 1156.59,600.2 1156.75,599.7 1156.92,599.2 1157.07,598.7 1157.23,598.2 1157.38,597.7 1157.52,597.2 1157.67,596.7 1157.8,596.2 1157.94,595.7 1158.06,595.2 1158.19,594.7 1158.31,594.2 1158.43,593.7 1158.54,593.2 1158.66,592.7 1158.76,592.2 1158.87,591.7 1158.98,591.2 1159.08,590.7 1159.18,590.2 1159.28,589.7 1159.37,589.2 1159.47,588.7 1159.56,588.2 1159.66,587.7 1159.75,587.2 1159.85,586.7 1159.94,586.2 1160.03,585.7 1160.13,585.2 1160.22,584.7 1160.32,584.2 1160.41,583.7 1160.51,583.2 1160.6,582.7 1160.7,582.2 1160.79,581.7 1160.89,581.2 1160.99,580.7 1161.08,580.2 1161.18,579.7 1161.27,579.2 1161.36,578.7 1161.45,578.2 1161.54,577.7 1161.63,577.2 1161.72,576.7 1161.8,576.2 1161.87,575.7 1161.95,575.2 1162.02,574.7 1162.08,574.2 1162.14,573.7 1162.19,573.2 1162.24,572.7 1162.28,572.2 1162.31,571.7 1162.33,571.2 1162.35,570.7 1162.36,570.2 1162.35,569.7 1162.34,569.2 1162.32,568.7 1162.29,568.2 1162.26,567.7 1162.21,567.2 1162.15,566.7 1162.08,566.2 1162,565.7 1161.92,565.2 1161.82,564.7 1161.71,564.2 1161.6,563.7 1161.47,563.2 1161.34,562.7 1161.2,562.2 1161.05,561.7 1160.9,561.2 1160.74,560.7 1160.57,560.2 1160.4,559.7 1160.22,559.2 1160.04,558.7 1159.86,558.2 1159.68,557.7 1159.49,557.2 1159.31,556.7 1159.12,556.2 1158.94,555.7 1158.76,555.2 1158.58,554.7 1158.4,554.2 1158.23,553.7 1158.07,553.2 1157.91,552.7 1157.76,552.2 1157.62,551.7 1157.48,551.2 1157.35,550.7 1157.23,550.2 1157.13,549.7 1157.03,549.2 1156.94,548.7 1156.87,548.2 1156.8,547.7 1156.75,547.2 1156.7,546.7 1156.67,546.2 1156.65,545.7 1156.64,545.2 1156.64,544.7 1156.65,544.2 1156.68,543.7 1156.71,543.2 1156.75,542.7 1156.8,542.2 1156.86,541.7 1156.93,541.2 1157.01,540.7 1157.09,540.2 1157.18,539.7 1157.28,539.2 1157.38,538.7 1157.48,538.2 1157.59,537.7 1157.7,537.2 1157.82,536.7 1157.93,536.2 1158.05,535.7 1158.17,535.2 1158.29,534.7 1158.4,534.2 1158.52,533.7 1158.64,533.2 1158.75,532.7 1158.86,532.2 1158.97,531.7 1159.08,531.2 1159.18,530.7 1159.28,530.2 1159.38,529.7 1159.47,529.2 1159.56,528.7 1159.65,528.2 1159.74,527.7 1159.82,527.2 1159.9,526.7 1159.98,526.2 1160.05,525.7 1160.13,525.2 1160.2,524.7 1160.27,524.2 1160.34,523.7 1160.41,523.2 1160.48,522.7 1160.55,522.2 1160.62,521.7 1160.69,521.2 1160.76,520.7 1160.83,520.2 1160.91,519.7 1160.99,519.2 1161.07,518.7 1161.15,518.2Z"/>
<line class="qt" x1="1156.41" y1="604.5" x2="1178.59" y2="604.5"/>
<line class="qt" x1="1124.15" y1="660.5" x2="1210.85" y2="660.5"/>
<line class="med" x1="1127.01" y1="643.5" x2="1207.99" y2="643.5"/>
<circle cx="1167.5" cy="518.2" r="2.6"/>
<circle cx="1167.5" cy="543.1" r="2.6"/>
<circle cx="1167.5" cy="549.75" r="2.6"/>
<circle cx="1167.5" cy="583.8" r="2.6"/>
<circle cx="1167.5" cy="604.9" r="2.6"/>
<circle cx="1167.5" cy="615.5" r="2.6"/>
<circle cx="1158.7" cy="627.2" r="2.6"/>
<circle cx="1167.5" cy="628.8" r="2.6"/>
<circle cx="1158.7" cy="640.2" r="2.6"/>
<circle cx="1167.5" cy="643.2" r="2.6"/>
<circle cx="1158.7" cy="648" r="2.6"/>
<circle cx="1176.3" cy="648.2" r="2.6"/>
<circle cx="1167.5" cy="650.25" r="2.6"/>
<circle cx="1158.7" cy="657.4" r="2.6"/>
<circle cx="1176.3" cy="660.2" r="2.6"/>
<circle cx="1158.7" cy="662.9" r="2.6"/>
<circle cx="1167.5" cy="663.7" r="2.6"/>
<circle cx="1176.3" cy="665.6" r="2.6"/>
<circle cx="1158.7" cy="668.2" r="2.6"/>
<path class="vio" fill="#BFF8BF" d="M1314.3,473.6 1314.29,474.1 1314.29,474.6 1314.27,475.1 1314.25,475.6 1314.23,476.1 1314.2,476.6 1314.17,477.1 1314.13,477.6 1314.08,478.1 1314.03,478.6 1313.98,479.1 1313.92,479.6 1313.86,480.1 1313.8,480.6 1313.73,481.1 1313.65,481.6 1313.58,482.1 1313.5,482.6 1313.41,483.1 1313.33,483.6 1313.24,484.1 1313.15,484.6 1313.06,485.1 1312.97,485.6 1312.87,486.1 1312.78,486.6 1312.68,487.1 1312.59,487.6 1312.49,488.1 1312.39,488.6 1312.29,489.1 1312.2,489.6 1312.1,490.1 1312,490.6 1311.91,491.1 1311.81,491.6 1311.72,492.1 1311.63,492.6 1311.54,493.1 1311.45,493.6 1311.36,494.1 1311.28,494.6 1311.2,495.1 1311.12,495.6 1311.04,496.1 1310.96,496.6 1310.89,497.1 1310.82,497.6 1310.75,498.1 1310.68,498.6 1310.62,499.1 1310.56,499.6 1310.5,500.1 1310.44,500.6 1310.39,501.1 1310.34,501.6 1310.29,502.1 1310.24,502.6 1310.2,503.1 1310.16,503.6 1310.12,504.1 1310.09,504.6 1310.05,505.1 1310.02,505.6 1310,506.1 1309.97,506.6 1309.95,507.1 1309.92,507.6 1309.91,508.1 1309.89,508.6 1309.88,509.1 1309.86,509.6 1309.85,510.1 1309.85,510.6 1309.84,511.1 1309.84,511.6 1309.84,512.1 1309.84,512.6 1309.85,513.1 1309.86,513.6 1309.87,514.1 1309.88,514.6 1309.9,515.1 1309.91,515.6 1309.93,516.1 1309.96,516.6 1309.98,517.1 1310.01,517.6 1310.05,518.1 1310.08,518.6 1310.12,519.1 1310.17,519.6 1310.21,520.1 1310.26,520.6 1310.32,521.1 1310.37,521.6 1310.44,522.1 1310.5,522.6 1310.57,523.1 1310.65,523.6 1310.73,524.1 1310.81,524.6 1310.9,525.1 1310.99,525.6 1311.09,526.1 1311.19,526.6 1311.3,527.1 1311.41,527.6 1311.53,528.1 1311.65,528.6 1311.78,529.1 1311.92,529.6 1312.06,530.1 1312.2,530.6 1312.35,531.1 1312.51,531.6 1312.67,532.1 1312.83,532.6 1313,533.1 1313.18,533.6 1313.36,534.1 1313.54,534.6 1313.73,535.1 1313.93,535.6 1314.13,536.1 1314.33,536.6 1314.53,537.1 1314.74,537.6 1314.96,538.1 1315.17,538.6 1315.39,539.1 1315.61,539.6 1315.83,540.1 1316.05,540.6 1316.28,541.1 1316.51,541.6 1316.73,542.1 1316.96,542.6 1317.18,543.1 1317.41,543.6 1317.63,544.1 1317.85,544.6 1318.07,545.1 1318.29,545.6 1318.5,546.1 1318.71,546.6 1318.92,547.1 1319.12,547.6 1319.32,548.1 1319.51,548.6 1319.7,549.1 1319.88,549.6 1320.05,550.1 1320.22,550.6 1320.38,551.1 1320.54,551.6 1320.68,552.1 1320.82,552.6 1320.95,553.1 1321.07,553.6 1321.19,554.1 1321.29,554.6 1321.39,555.1 1321.47,555.6 1321.55,556.1 1321.62,556.6 1321.68,557.1 1321.73,557.6 1321.77,558.1 1321.8,558.6 1321.82,559.1 1321.84,559.6 1321.84,560.1 1321.84,560.6 1321.82,561.1 1321.8,561.6 1321.77,562.1 1321.73,562.6 1321.69,563.1 1321.63,563.6 1321.57,564.1 1321.51,564.6 1321.43,565.1 1321.35,565.6 1321.26,566.1 1321.17,566.6 1321.07,567.1 1320.97,567.6 1320.86,568.1 1320.75,568.6 1320.64,569.1 1320.52,569.6 1320.4,570.1 1320.27,570.6 1320.14,571.1 1320.01,571.6 1319.88,572.1 1319.75,572.6 1319.62,573.1 1319.49,573.6 1319.36,574.1 1319.22,574.6 1319.09,575.1 1318.96,575.6 1318.84,576.1 1318.71,576.6 1318.59,577.1 1318.46,577.6 1318.35,578.1 1318.23,578.6 1318.12,579.1 1318.01,579.6 1317.91,580.1 1317.81,580.6 1317.71,581.1 1317.62,581.6 1317.54,582.1 1317.46,582.6 1317.39,583.1 1317.32,583.6 1317.26,584.1 1317.2,584.6 1317.15,585.1 1317.1,585.6 1317.06,586.1 1317.03,586.6 1317.01,587.1 1316.99,587.6 1316.97,588.1 1316.97,588.6 1316.97,589.1 1316.98,589.6 1316.99,590.1 1317.01,590.6 1317.04,591.1 1317.07,591.6 1317.11,592.1 1317.16,592.6 1317.21,593.1 1317.27,593.6 1317.33,594.1 1317.41,594.6 1317.48,595.1 1317.57,595.6 1317.66,596.1 1317.76,596.6 1317.86,597.1 1317.97,597.6 1318.08,598.1 1318.2,598.6 1318.33,599.1 1318.46,599.6 1318.6,600.1 1318.74,600.6 1318.89,601.1 1319.05,601.6 1319.21,602.1 1319.37,602.6 1319.55,603.1 1319.72,603.6 1319.91,604.1 1320.1,604.6 1320.29,605.1 1320.49,605.6 1320.7,606.1 1320.91,606.6 1321.12,607.1 1321.35,607.6 1321.57,608.1 1321.81,608.6 1322.05,609.1 1322.29,609.6 1322.55,610.1 1322.8,610.6 1323.07,611.1 1323.34,611.6 1323.61,612.1 1323.9,612.6 1324.18,613.1 1324.48,613.6 1324.78,614.1 1325.09,614.6 1325.4,615.1 1325.72,615.6 1326.05,616.1 1326.39,616.6 1326.73,617.1 1327.08,617.6 1327.43,618.1 1327.79,618.6 1328.16,619.1 1328.54,619.6 1328.92,620.1 1329.32,620.6 1329.71,621.1 1330.12,621.6 1330.53,622.1 1330.95,622.6 1331.38,623.1 1331.82,623.6 1332.26,624.1 1332.71,624.6 1333.17,625.1 1333.64,625.6 1334.11,626.1 1334.59,626.6 1335.07,627.1 1335.57,627.6 1336.07,628.1 1336.57,628.6 1337.09,629.1 1337.6,629.6 1338.13,630.1 1338.66,630.6 1339.19,631.1 1339.73,631.6 1340.27,632.1 1340.82,632.6 1341.37,633.1 1341.92,633.6 1342.47,634.1 1343.03,634.6 1343.58,635.1 1344.14,635.6 1344.69,636.1 1345.25,636.6 1345.79,637.1 1346.34,637.6 1346.88,638.1 1347.42,638.6 1347.95,639.1 1348.47,639.6 1348.99,640.1 1349.49,640.6 1349.99,641.1 1350.47,641.6 1350.94,642.1 1351.4,642.6 1351.84,643.1 1352.27,643.6 1352.68,644.1 1353.07,644.6 1353.44,645.1 1353.8,645.6 1354.13,646.1 1354.43,646.6 1354.72,647.1 1354.98,647.6 1355.22,648.1 1355.43,648.6 1355.61,649.1 1355.76,649.6 1355.89,650.1 1355.99,650.6 1356.06,651.1 1356.09,651.6 1356.1,652.1 1356.07,652.6 1356.02,653.1 1355.93,653.6 1355.81,654.1 1355.65,654.6 1355.47,655.1 1355.25,655.6 1355,656.1 1354.72,656.6 1354.41,657.1 1354.06,657.6 1353.69,658.1 1353.28,658.6 1352.85,659.1 1352.38,659.6 1351.89,660.1 1351.37,660.6 1350.83,661.1 1350.25,661.6 1349.66,662.1 1349.04,662.6 1348.4,663.1 1347.73,663.6 1347.05,664.1 1346.77,664.3 1272.23,664.3 1271.95,664.1 1271.27,663.6 1270.6,663.1 1269.96,662.6 1269.34,662.1 1268.75,661.6 1268.17,661.1 1267.63,660.6 1267.11,660.1 1266.62,659.6 1266.15,659.1 1265.72,658.6 1265.31,658.1 1264.94,657.6 1264.59,657.1 1264.28,656.6 1264,656.1 1263.75,655.6 1263.53,655.1 1263.35,654.6 1263.19,654.1 1263.07,653.6 1262.98,653.1 1262.93,652.6 1262.9,652.1 1262.91,651.6 1262.94,651.1 1263.01,650.6 1263.11,650.1 1263.24,649.6 1263.39,649.1 1263.57,648.6 1263.78,648.1 1264.02,647.6 1264.28,647.1 1264.57,646.6 1264.87,646.1 1265.2,645.6 1265.56,645.1 1265.93,644.6 1266.32,644.1 1266.73,643.6 1267.16,643.1 1267.6,642.6 1268.06,642.1 1268.53,641.6 1269.01,641.1 1269.51,640.6 1270.01,640.1 1270.53,639.6 1271.05,639.1 1271.58,638.6 1272.12,638.1 1272.66,637.6 1273.21,637.1 1273.75,636.6 1274.31,636.1 1274.86,635.6 1275.42,635.1 1275.97,634.6 1276.53,634.1 1277.08,633.6 1277.63,633.1 1278.18,632.6 1278.73,632.1 1279.27,631.6 1279.81,631.1 1280.34,630.6 1280.87,630.1 1281.4,629.6 1281.91,629.1 1282.43,628.6 1282.93,628.1 1283.43,627.6 1283.93,627.1 1284.41,626.6 1284.89,626.1 1285.36,625.6 1285.83,625.1 1286.29,624.6 1286.74,624.1 1287.18,623.6 1287.62,623.1 1288.05,622.6 1288.47,622.1 1288.88,621.6 1289.29,621.1 1289.68,620.6 1290.08,620.1 1290.46,619.6 1290.84,619.1 1291.21,618.6 1291.57,618.1 1291.92,617.6 1292.27,617.1 1292.61,616.6 1292.95,616.1 1293.28,615.6 1293.6,615.1 1293.91,614.6 1294.22,614.1 1294.52,613.6 1294.82,613.1 1295.1,612.6 1295.39,612.1 1295.66,611.6 1295.93,611.1 1296.2,610.6 1296.45,610.1 1296.71,609.6 1296.95,609.1 1297.19,608.6 1297.43,608.1 1297.65,607.6 1297.88,607.1 1298.09,606.6 1298.3,606.1 1298.51,605.6 1298.71,605.1 1298.9,604.6 1299.09,604.1 1299.28,603.6 1299.45,603.1 1299.63,602.6 1299.79,602.1 1299.95,601.6 1300.11,601.1 1300.26,600.6 1300.4,600.1 1300.54,599.6 1300.67,599.1 1300.8,598.6 1300.92,598.1 1301.03,597.6 1301.14,597.1 1301.24,596.6 1301.34,596.1 1301.43,595.6 1301.52,595.1 1301.59,594.6 1301.67,594.1 1301.73,593.6 1301.79,593.1 1301.84,592.6 1301.89,592.1 1301.93,591.6 1301.96,591.1 1301.99,590.6 1302.01,590.1 1302.02,589.6 1302.03,589.1 1302.03,588.6 1302.03,588.1 1302.01,587.6 1301.99,587.1 1301.97,586.6 1301.94,586.1 1301.9,585.6 1301.85,585.1 1301.8,584.6 1301.74,584.1 1301.68,583.6 1301.61,583.1 1301.54,582.6 1301.46,582.1 1301.38,581.6 1301.29,581.1 1301.19,580.6 1301.09,580.1 1300.99,579.6 1300.88,579.1 1300.77,578.6 1300.65,578.1 1300.54,577.6 1300.41,577.1 1300.29,576.6 1300.16,576.1 1300.04,575.6 1299.91,575.1 1299.78,574.6 1299.64,574.1 1299.51,573.6 1299.38,573.1 1299.25,572.6 1299.12,572.1 1298.99,571.6 1298.86,571.1 1298.73,570.6 1298.6,570.1 1298.48,569.6 1298.36,569.1 1298.25,568.6 1298.14,568.1 1298.03,567.6 1297.93,567.1 1297.83,566.6 1297.74,566.1 1297.65,565.6 1297.57,565.1 1297.49,564.6 1297.43,564.1 1297.37,563.6 1297.31,563.1 1297.27,562.6 1297.23,562.1 1297.2,561.6 1297.18,561.1 1297.16,560.6 1297.16,560.1 1297.16,559.6 1297.18,559.1 1297.2,558.6 1297.23,558.1 1297.27,557.6 1297.32,557.1 1297.38,556.6 1297.45,556.1 1297.53,555.6 1297.61,555.1 1297.71,554.6 1297.81,554.1 1297.93,553.6 1298.05,553.1 1298.18,552.6 1298.32,552.1 1298.46,551.6 1298.62,551.1 1298.78,550.6 1298.95,550.1 1299.12,549.6 1299.3,549.1 1299.49,548.6 1299.68,548.1 1299.88,547.6 1300.08,547.1 1300.29,546.6 1300.5,546.1 1300.71,545.6 1300.93,545.1 1301.15,544.6 1301.37,544.1 1301.59,543.6 1301.82,543.1 1302.04,542.6 1302.27,542.1 1302.49,541.6 1302.72,541.1 1302.95,540.6 1303.17,540.1 1303.39,539.6 1303.61,539.1 1303.83,538.6 1304.04,538.1 1304.26,537.6 1304.47,537.1 1304.67,536.6 1304.87,536.1 1305.07,535.6 1305.27,535.1 1305.46,534.6 1305.64,534.1 1305.82,533.6 1306,533.1 1306.17,532.6 1306.33,532.1 1306.49,531.6 1306.65,531.1 1306.8,530.6 1306.94,530.1 1307.08,529.6 1307.22,529.1 1307.35,528.6 1307.47,528.1 1307.59,527.6 1307.7,527.1 1307.81,526.6 1307.91,526.1 1308.01,525.6 1308.1,525.1 1308.19,524.6 1308.27,524.1 1308.35,523.6 1308.43,523.1 1308.5,522.6 1308.56,522.1 1308.63,521.6 1308.68,521.1 1308.74,520.6 1308.79,520.1 1308.83,519.6 1308.88,519.1 1308.92,518.6 1308.95,518.1 1308.99,517.6 1309.02,517.1 1309.04,516.6 1309.07,516.1 1309.09,515.6 1309.1,515.1 1309.12,514.6 1309.13,514.1 1309.14,513.6 1309.15,513.1 1309.16,512.6 1309.16,512.1 1309.16,511.6 1309.16,511.1 1309.15,510.6 1309.15,510.1 1309.14,509.6 1309.12,509.1 1309.11,508.6 1309.09,508.1 1309.08,507.6 1309.05,507.1 1309.03,506.6 1309,506.1 1308.98,505.6 1308.95,505.1 1308.91,504.6 1308.88,504.1 1308.84,503.6 1308.8,503.1 1308.76,502.6 1308.71,502.1 1308.66,501.6 1308.61,501.1 1308.56,500.6 1308.5,500.1 1308.44,499.6 1308.38,499.1 1308.32,498.6 1308.25,498.1 1308.18,497.6 1308.11,497.1 1308.04,496.6 1307.96,496.1 1307.88,495.6 1307.8,495.1 1307.72,494.6 1307.64,494.1 1307.55,493.6 1307.46,493.1 1307.37,492.6 1307.28,492.1 1307.19,491.6 1307.09,491.1 1307,490.6 1306.9,490.1 1306.8,489.6 1306.71,489.1 1306.61,488.6 1306.51,488.1 1306.41,487.6 1306.32,487.1 1306.22,486.6 1306.13,486.1 1306.03,485.6 1305.94,485.1 1305.85,484.6 1305.76,484.1 1305.67,483.6 1305.59,483.1 1305.5,482.6 1305.42,482.1 1305.35,481.6 1305.27,481.1 1305.2,480.6 1305.14,480.1 1305.08,479.6 1305.02,479.1 1304.97,478.6 1304.92,478.1 1304.87,477.6 1304.83,477.1 1304.8,476.6 1304.77,476.1 1304.75,475.6 1304.73,475.1 1304.71,474.6 1304.71,474.1 1304.7,473.6Z"/>
<line class="qt" x1="1303.21" y1="594.5" x2="1315.79" y2="594.5"/>
<line class="qt" x1="1267.4" y1="658.5" x2="1351.6" y2="658.5"/>
<line class="med" x1="1265.34" y1="646" x2="1353.66" y2="646"/>
<circle cx="1313.9" cy="473.6" r="2.6"/>
<circle cx="1305.1" cy="552.7" r="2.6"/>
<circle cx="1313.9" cy="556.85" r="2.6"/>
<circle cx="1305.1" cy="572.9" r="2.6"/>
<circle cx="1313.9" cy="601.65" r="2.6"/>
<circle cx="1305.1" cy="623.7" r="2.6"/>
<circle cx="1313.9" cy="622.8" r="2.6"/>
<circle cx="1313.9" cy="635.6" r="2.6"/>
<circle cx="1296.3" cy="644.6" r="2.6"/>
<circle cx="1305.1" cy="647.4" r="2.6"/>
<circle cx="1313.9" cy="647" r="2.6"/>
<circle cx="1322.7" cy="647" r="2.6"/>
<circle cx="1305.1" cy="653.4" r="2.6"/>
<circle cx="1296.3" cy="659" r="2.6"/>
<circle cx="1313.9" cy="658.3" r="2.6"/>
<circle cx="1296.3" cy="663.4" r="2.6"/>
<circle cx="1313.9" cy="662.5" r="2.6"/>
<circle cx="1322.7" cy="662.1" r="2.6"/>
<path class="ax" style="stroke-width:3.1" d="M1072.6,445.85V668.95"/>
<path class="ax" style="stroke-width:2.5" d="M1071.05,447.1H1405.9"/>
<path class="ax" style="stroke-width:2.3" d="M1404.75,445.85V668.95"/>
<path class="ax" style="stroke-width:2.5" d="M1071.05,667.7H1405.9"/>
<path class="ax" style="stroke-width:2.5" d="M1063.4,667.7H1072.6M1063.4,594.17H1072.6M1063.4,520.63H1072.6M1063.4,447.1H1072.6"/>
<path class="ax" style="stroke-width:2.4" d="M1167.5,667.7V676.9M1309.5,667.7V676.9"/>
<text class="tk" transform="translate(1060.1 673.6) scale(1.045 1)">0</text>
<text class="tk" transform="translate(1060.1 600.07) scale(1.045 1)">50</text>
<text class="tk" transform="translate(1060.1 526.53) scale(1.045 1)">100</text>
<text class="tk" transform="translate(1060.1 453) scale(1.045 1)">150</text>
<text class="xl" transform="translate(1167.6 694) scale(1.045 1)">AD</text>
<text class="xl" transform="translate(1309.6 694) scale(1.045 1)">CD</text>
<text class="yl" transform="translate(1020.6 556.4) rotate(-90) scale(1.035 1)">mg/dL</text>
</g>
<g>
<text class="tt" transform="translate(1731.9 412.2) scale(1.045 1)">TC</text>
<path class="vio" fill="#FFBBBB" d="M1672.36,479.45 1672.61,479.95 1672.83,480.45 1673.02,480.95 1673.18,481.45 1673.32,481.95 1673.43,482.45 1673.5,482.95 1673.55,483.45 1673.57,483.95 1673.56,484.45 1673.51,484.95 1673.44,485.45 1673.35,485.95 1673.22,486.45 1673.07,486.95 1672.89,487.45 1672.7,487.95 1672.48,488.45 1672.25,488.95 1672.01,489.45 1671.75,489.95 1671.49,490.45 1671.22,490.95 1670.95,491.45 1670.68,491.95 1670.42,492.45 1670.17,492.95 1669.93,493.45 1669.71,493.95 1669.51,494.45 1669.34,494.95 1669.19,495.45 1669.08,495.95 1669,496.45 1668.96,496.95 1668.96,497.45 1669,497.95 1669.09,498.45 1669.23,498.95 1669.41,499.45 1669.64,499.95 1669.92,500.45 1670.25,500.95 1670.63,501.45 1671.05,501.95 1671.52,502.45 1672.04,502.95 1672.6,503.45 1673.2,503.95 1673.83,504.45 1674.5,504.95 1675.2,505.45 1675.92,505.95 1676.66,506.45 1677.42,506.95 1678.18,507.45 1678.95,507.95 1679.72,508.45 1680.48,508.95 1681.23,509.45 1681.95,509.95 1682.66,510.45 1683.33,510.95 1683.97,511.45 1684.57,511.95 1685.12,512.45 1685.63,512.95 1686.09,513.45 1686.49,513.95 1686.84,514.45 1687.13,514.95 1687.36,515.45 1687.54,515.95 1687.67,516.45 1687.74,516.95 1687.77,517.45 1687.75,517.95 1687.69,518.45 1687.59,518.95 1687.47,519.45 1687.33,519.95 1687.17,520.45 1687,520.95 1686.83,521.45 1686.67,521.95 1686.52,522.45 1686.39,522.95 1686.28,523.45 1686.21,523.95 1686.17,524.45 1686.17,524.95 1686.22,525.45 1686.31,525.95 1686.45,526.45 1686.65,526.95 1686.89,527.45 1687.18,527.95 1687.52,528.45 1687.9,528.95 1688.33,529.45 1688.79,529.95 1689.29,530.45 1689.82,530.95 1690.37,531.45 1690.94,531.95 1691.52,532.45 1692.11,532.95 1692.7,533.45 1693.28,533.95 1693.86,534.45 1694.41,534.95 1694.95,535.45 1695.47,535.95 1695.96,536.45 1696.41,536.95 1696.84,537.45 1697.22,537.95 1697.58,538.45 1697.9,538.95 1698.18,539.45 1698.43,539.95 1698.66,540.45 1698.85,540.95 1699.02,541.45 1699.17,541.95 1699.3,542.45 1699.43,542.95 1699.54,543.45 1699.66,543.95 1699.78,544.45 1699.92,544.95 1700.06,545.45 1700.23,545.95 1700.42,546.45 1700.63,546.95 1700.88,547.45 1701.15,547.95 1701.45,548.45 1701.79,548.95 1702.16,549.45 1702.55,549.95 1702.97,550.45 1703.4,550.95 1703.86,551.45 1704.32,551.95 1704.8,552.45 1705.26,552.95 1705.73,553.45 1706.17,553.95 1706.6,554.45 1706.99,554.95 1707.35,555.45 1707.67,555.95 1707.93,556.45 1708.14,556.95 1708.29,557.45 1708.38,557.95 1708.4,558.45 1708.34,558.95 1708.21,559.45 1708.01,559.95 1707.72,560.45 1707.36,560.95 1706.93,561.45 1706.41,561.95 1705.83,562.45 1705.17,562.95 1704.45,563.45 1703.66,563.95 1702.81,564.45 1701.91,564.95 1700.95,565.45 1699.96,565.95 1698.92,566.45 1697.85,566.95 1696.76,567.45 1695.64,567.95 1694.51,568.45 1693.37,568.95 1692.22,569.45 1691.08,569.95 1689.94,570.45 1688.82,570.95 1687.72,571.45 1686.63,571.95 1685.57,572.45 1684.54,572.95 1683.54,573.45 1682.57,573.95 1681.64,574.45 1680.74,574.95 1679.88,575.45 1679.05,575.95 1678.26,576.45 1677.5,576.95 1676.78,577.45 1676.09,577.95 1675.42,578.45 1674.79,578.95 1674.18,579.45 1673.83,579.75 1650.97,579.75 1650.62,579.45 1650.01,578.95 1649.38,578.45 1648.71,577.95 1648.02,577.45 1647.3,576.95 1646.54,576.45 1645.75,575.95 1644.92,575.45 1644.06,574.95 1643.16,574.45 1642.23,573.95 1641.26,573.45 1640.26,572.95 1639.23,572.45 1638.17,571.95 1637.08,571.45 1635.98,570.95 1634.86,570.45 1633.72,569.95 1632.58,569.45 1631.43,568.95 1630.29,568.45 1629.16,567.95 1628.04,567.45 1626.95,566.95 1625.88,566.45 1624.84,565.95 1623.85,565.45 1622.89,564.95 1621.99,564.45 1621.14,563.95 1620.35,563.45 1619.63,562.95 1618.97,562.45 1618.39,561.95 1617.87,561.45 1617.44,560.95 1617.08,560.45 1616.79,559.95 1616.59,559.45 1616.46,558.95 1616.4,558.45 1616.42,557.95 1616.51,557.45 1616.66,556.95 1616.87,556.45 1617.13,555.95 1617.45,555.45 1617.81,554.95 1618.2,554.45 1618.63,553.95 1619.07,553.45 1619.54,552.95 1620,552.45 1620.48,551.95 1620.94,551.45 1621.4,550.95 1621.83,550.45 1622.25,549.95 1622.64,549.45 1623.01,548.95 1623.35,548.45 1623.65,547.95 1623.92,547.45 1624.17,546.95 1624.38,546.45 1624.57,545.95 1624.74,545.45 1624.88,544.95 1625.02,544.45 1625.14,543.95 1625.26,543.45 1625.37,542.95 1625.5,542.45 1625.63,541.95 1625.78,541.45 1625.95,540.95 1626.14,540.45 1626.37,539.95 1626.62,539.45 1626.9,538.95 1627.22,538.45 1627.58,537.95 1627.96,537.45 1628.39,536.95 1628.84,536.45 1629.33,535.95 1629.85,535.45 1630.39,534.95 1630.94,534.45 1631.52,533.95 1632.1,533.45 1632.69,532.95 1633.28,532.45 1633.86,531.95 1634.43,531.45 1634.98,530.95 1635.51,530.45 1636.01,529.95 1636.47,529.45 1636.9,528.95 1637.28,528.45 1637.62,527.95 1637.91,527.45 1638.15,526.95 1638.35,526.45 1638.49,525.95 1638.58,525.45 1638.63,524.95 1638.63,524.45 1638.59,523.95 1638.52,523.45 1638.41,522.95 1638.28,522.45 1638.13,521.95 1637.97,521.45 1637.8,520.95 1637.63,520.45 1637.47,519.95 1637.33,519.45 1637.21,518.95 1637.11,518.45 1637.05,517.95 1637.03,517.45 1637.06,516.95 1637.13,516.45 1637.26,515.95 1637.44,515.45 1637.67,514.95 1637.96,514.45 1638.31,513.95 1638.71,513.45 1639.17,512.95 1639.68,512.45 1640.23,511.95 1640.83,511.45 1641.47,510.95 1642.14,510.45 1642.85,509.95 1643.57,509.45 1644.32,508.95 1645.08,508.45 1645.85,507.95 1646.62,507.45 1647.38,506.95 1648.14,506.45 1648.88,505.95 1649.6,505.45 1650.3,504.95 1650.97,504.45 1651.6,503.95 1652.2,503.45 1652.76,502.95 1653.28,502.45 1653.75,501.95 1654.17,501.45 1654.55,500.95 1654.88,500.45 1655.16,499.95 1655.39,499.45 1655.57,498.95 1655.71,498.45 1655.8,497.95 1655.84,497.45 1655.84,496.95 1655.8,496.45 1655.72,495.95 1655.61,495.45 1655.46,494.95 1655.29,494.45 1655.09,493.95 1654.87,493.45 1654.63,492.95 1654.38,492.45 1654.12,491.95 1653.85,491.45 1653.58,490.95 1653.31,490.45 1653.05,489.95 1652.79,489.45 1652.55,488.95 1652.32,488.45 1652.1,487.95 1651.91,487.45 1651.73,486.95 1651.58,486.45 1651.45,485.95 1651.36,485.45 1651.29,484.95 1651.24,484.45 1651.23,483.95 1651.25,483.45 1651.3,482.95 1651.37,482.45 1651.48,481.95 1651.62,481.45 1651.78,480.95 1651.97,480.45 1652.19,479.95 1652.44,479.45Z"/>
<line class="qt" x1="1638.66" y1="518.5" x2="1686.14" y2="518.5"/>
<line class="qt" x1="1618.01" y1="558.5" x2="1706.79" y2="558.5"/>
<line class="med" x1="1625.76" y1="542.5" x2="1699.04" y2="542.5"/>
<circle cx="1658" cy="479.45" r="2.6"/>
<circle cx="1666.8" cy="488.3" r="2.6"/>
<circle cx="1666.8" cy="509.15" r="2.6"/>
<circle cx="1666.8" cy="515.2" r="2.6"/>
<circle cx="1649.2" cy="517.75" r="2.6"/>
<circle cx="1675.6" cy="518.5" r="2.6"/>
<circle cx="1658" cy="531.8" r="2.6"/>
<circle cx="1666.8" cy="532.7" r="2.6"/>
<circle cx="1675.6" cy="539.3" r="2.6"/>
<circle cx="1666.8" cy="540.3" r="2.6"/>
<circle cx="1658" cy="542.2" r="2.6"/>
<circle cx="1666.8" cy="545.6" r="2.6"/>
<circle cx="1666.8" cy="555.05" r="2.6"/>
<circle cx="1675.6" cy="555.3" r="2.6"/>
<circle cx="1649.2" cy="556.6" r="2.6"/>
<circle cx="1658" cy="556.6" r="2.6"/>
<circle cx="1666.8" cy="560.5" r="2.6"/>
<circle cx="1649.2" cy="565.5" r="2.6"/>
<circle cx="1666.8" cy="566.4" r="2.6"/>
<circle cx="1658" cy="567.1" r="2.6"/>
<circle cx="1658" cy="579.75" r="2.6"/>
<path class="vio" fill="#FFBBBB" d="M1811.19,476.1 1811.48,476.6 1811.77,477.1 1812.04,477.6 1812.31,478.1 1812.58,478.6 1812.83,479.1 1813.07,479.6 1813.31,480.1 1813.54,480.6 1813.76,481.1 1813.97,481.6 1814.17,482.1 1814.36,482.6 1814.55,483.1 1814.72,483.6 1814.89,484.1 1815.05,484.6 1815.2,485.1 1815.34,485.6 1815.47,486.1 1815.59,486.6 1815.69,487.1 1815.79,487.6 1815.88,488.1 1815.95,488.6 1816.01,489.1 1816.05,489.6 1816.08,490.1 1816.09,490.6 1816.09,491.1 1816.06,491.6 1816.02,492.1 1815.96,492.6 1815.88,493.1 1815.78,493.6 1815.66,494.1 1815.52,494.6 1815.36,495.1 1815.18,495.6 1814.98,496.1 1814.76,496.6 1814.53,497.1 1814.28,497.6 1814.02,498.1 1813.75,498.6 1813.47,499.1 1813.19,499.6 1812.9,500.1 1812.61,500.6 1812.32,501.1 1812.03,501.6 1811.75,502.1 1811.48,502.6 1811.23,503.1 1810.99,503.6 1810.77,504.1 1810.58,504.6 1810.41,505.1 1810.26,505.6 1810.15,506.1 1810.06,506.6 1810.01,507.1 1810,507.6 1810.01,508.1 1810.07,508.6 1810.16,509.1 1810.29,509.6 1810.45,510.1 1810.65,510.6 1810.88,511.1 1811.15,511.6 1811.45,512.1 1811.78,512.6 1812.14,513.1 1812.53,513.6 1812.94,514.1 1813.37,514.6 1813.83,515.1 1814.3,515.6 1814.79,516.1 1815.29,516.6 1815.81,517.1 1816.33,517.6 1816.86,518.1 1817.4,518.6 1817.93,519.1 1818.47,519.6 1819.01,520.1 1819.54,520.6 1820.07,521.1 1820.59,521.6 1821.1,522.1 1821.6,522.6 1822.1,523.1 1822.57,523.6 1823.04,524.1 1823.49,524.6 1823.92,525.1 1824.34,525.6 1824.74,526.1 1825.11,526.6 1825.47,527.1 1825.8,527.6 1826.11,528.1 1826.39,528.6 1826.65,529.1 1826.88,529.6 1827.08,530.1 1827.26,530.6 1827.4,531.1 1827.53,531.6 1827.62,532.1 1827.68,532.6 1827.73,533.1 1827.74,533.6 1827.74,534.1 1827.71,534.6 1827.67,535.1 1827.62,535.6 1827.55,536.1 1827.48,536.6 1827.4,537.1 1827.32,537.6 1827.25,538.1 1827.2,538.6 1827.15,539.1 1827.13,539.6 1827.13,540.1 1827.16,540.6 1827.23,541.1 1827.33,541.6 1827.48,542.1 1827.67,542.6 1827.92,543.1 1828.21,543.6 1828.56,544.1 1828.97,544.6 1829.43,545.1 1829.95,545.6 1830.52,546.1 1831.15,546.6 1831.82,547.1 1832.55,547.6 1833.33,548.1 1834.14,548.6 1834.99,549.1 1835.87,549.6 1836.77,550.1 1837.69,550.6 1838.62,551.1 1839.55,551.6 1840.47,552.1 1841.37,552.6 1842.26,553.1 1843.1,553.6 1843.91,554.1 1844.67,554.6 1845.38,555.1 1846.01,555.6 1846.58,556.1 1847.07,556.6 1847.48,557.1 1847.8,557.6 1848.03,558.1 1848.16,558.6 1848.2,559.1 1848.14,559.6 1847.98,560.1 1847.72,560.6 1847.37,561.1 1846.92,561.6 1846.38,562.1 1845.76,562.6 1845.05,563.1 1844.27,563.6 1843.42,564.1 1842.5,564.6 1841.52,565.1 1840.49,565.6 1839.42,566.1 1838.31,566.6 1837.17,567.1 1836,567.6 1834.82,568.1 1833.62,568.6 1832.41,569.1 1831.21,569.6 1830.01,570.1 1828.81,570.6 1827.63,571.1 1826.47,571.6 1825.32,572.1 1824.2,572.6 1823.1,573.1 1822.02,573.6 1820.98,574.1 1820.36,574.4 1783.44,574.4 1782.82,574.1 1781.78,573.6 1780.7,573.1 1779.6,572.6 1778.48,572.1 1777.33,571.6 1776.17,571.1 1774.99,570.6 1773.79,570.1 1772.59,569.6 1771.39,569.1 1770.18,568.6 1768.98,568.1 1767.8,567.6 1766.63,567.1 1765.49,566.6 1764.38,566.1 1763.31,565.6 1762.28,565.1 1761.3,564.6 1760.38,564.1 1759.53,563.6 1758.75,563.1 1758.04,562.6 1757.42,562.1 1756.88,561.6 1756.43,561.1 1756.08,560.6 1755.82,560.1 1755.66,559.6 1755.6,559.1 1755.64,558.6 1755.77,558.1 1756,557.6 1756.32,557.1 1756.73,556.6 1757.22,556.1 1757.79,555.6 1758.42,555.1 1759.13,554.6 1759.89,554.1 1760.7,553.6 1761.54,553.1 1762.43,552.6 1763.33,552.1 1764.25,551.6 1765.18,551.1 1766.11,550.6 1767.03,550.1 1767.93,549.6 1768.81,549.1 1769.66,548.6 1770.47,548.1 1771.25,547.6 1771.98,547.1 1772.65,546.6 1773.28,546.1 1773.85,545.6 1774.37,545.1 1774.83,544.6 1775.24,544.1 1775.59,543.6 1775.88,543.1 1776.13,542.6 1776.32,542.1 1776.47,541.6 1776.57,541.1 1776.64,540.6 1776.67,540.1 1776.67,539.6 1776.65,539.1 1776.6,538.6 1776.55,538.1 1776.48,537.6 1776.4,537.1 1776.32,536.6 1776.25,536.1 1776.18,535.6 1776.13,535.1 1776.09,534.6 1776.06,534.1 1776.06,533.6 1776.07,533.1 1776.12,532.6 1776.18,532.1 1776.27,531.6 1776.4,531.1 1776.54,530.6 1776.72,530.1 1776.92,529.6 1777.15,529.1 1777.41,528.6 1777.69,528.1 1778,527.6 1778.33,527.1 1778.69,526.6 1779.06,526.1 1779.46,525.6 1779.88,525.1 1780.31,524.6 1780.76,524.1 1781.23,523.6 1781.7,523.1 1782.2,522.6 1782.7,522.1 1783.21,521.6 1783.73,521.1 1784.26,520.6 1784.79,520.1 1785.33,519.6 1785.87,519.1 1786.4,518.6 1786.94,518.1 1787.47,517.6 1787.99,517.1 1788.51,516.6 1789.01,516.1 1789.5,515.6 1789.97,515.1 1790.43,514.6 1790.86,514.1 1791.27,513.6 1791.66,513.1 1792.02,512.6 1792.35,512.1 1792.65,511.6 1792.92,511.1 1793.15,510.6 1793.35,510.1 1793.51,509.6 1793.64,509.1 1793.73,508.6 1793.79,508.1 1793.8,507.6 1793.79,507.1 1793.74,506.6 1793.65,506.1 1793.54,505.6 1793.39,505.1 1793.22,504.6 1793.03,504.1 1792.81,503.6 1792.57,503.1 1792.32,502.6 1792.05,502.1 1791.77,501.6 1791.48,501.1 1791.19,500.6 1790.9,500.1 1790.61,499.6 1790.33,499.1 1790.05,498.6 1789.78,498.1 1789.52,497.6 1789.27,497.1 1789.04,496.6 1788.82,496.1 1788.62,495.6 1788.44,495.1 1788.28,494.6 1788.14,494.1 1788.02,493.6 1787.92,493.1 1787.84,492.6 1787.78,492.1 1787.74,491.6 1787.71,491.1 1787.71,490.6 1787.72,490.1 1787.75,489.6 1787.79,489.1 1787.85,488.6 1787.92,488.1 1788.01,487.6 1788.11,487.1 1788.21,486.6 1788.33,486.1 1788.46,485.6 1788.6,485.1 1788.75,484.6 1788.91,484.1 1789.08,483.6 1789.25,483.1 1789.44,482.6 1789.63,482.1 1789.83,481.6 1790.04,481.1 1790.26,480.6 1790.49,480.1 1790.73,479.6 1790.97,479.1 1791.22,478.6 1791.49,478.1 1791.76,477.6 1792.03,477.1 1792.32,476.6 1792.61,476.1Z"/>
<line class="qt" x1="1786.29" y1="520.5" x2="1817.51" y2="520.5"/>
<line class="qt" x1="1757.35" y1="559.5" x2="1846.45" y2="559.5"/>
<line class="med" x1="1770.59" y1="548.45" x2="1833.21" y2="548.45"/>
<circle cx="1801.9" cy="476.1" r="2.6"/>
<circle cx="1801.9" cy="484.9" r="2.6"/>
<circle cx="1810.7" cy="493.6" r="2.6"/>
<circle cx="1801.9" cy="498" r="2.6"/>
<circle cx="1801.9" cy="518.9" r="2.6"/>
<circle cx="1793.1" cy="522.1" r="2.6"/>
<circle cx="1810.7" cy="529.25" r="2.6"/>
<circle cx="1793.1" cy="533.7" r="2.6"/>
<circle cx="1810.7" cy="534.95" r="2.6"/>
<circle cx="1801.9" cy="536.9" r="2.6"/>
<circle cx="1810.7" cy="548.15" r="2.6"/>
<circle cx="1801.9" cy="550.9" r="2.6"/>
<circle cx="1775.5" cy="558" r="2.6"/>
<circle cx="1819.5" cy="558" r="2.6"/>
<circle cx="1810.7" cy="558.6" r="2.6"/>
<circle cx="1793.1" cy="559.5" r="2.6"/>
<circle cx="1784.3" cy="560.5" r="2.6"/>
<circle cx="1828.3" cy="560.5" r="2.6"/>
<circle cx="1801.9" cy="562" r="2.6"/>
<circle cx="1810.7" cy="569.7" r="2.6"/>
<circle cx="1801.9" cy="574.4" r="2.6"/>
<path class="ax" style="stroke-width:2.2" d="M1569.5,442.5V661.95"/>
<path class="ax" style="stroke-width:3.0" d="M1568.4,444H1896.25"/>
<path class="ax" style="stroke-width:2.1" d="M1895.2,442.5V661.95"/>
<path class="ax" style="stroke-width:2.1" d="M1568.4,660.9H1896.25"/>
<path class="ax" style="stroke-width:2.2" d="M1560.3,660.9H1569.5M1560.3,617.52H1569.5M1560.3,574.14H1569.5M1560.3,530.76H1569.5M1560.3,487.38H1569.5M1560.3,444H1569.5"/>
<path class="ax" style="stroke-width:2.4" d="M1662.4,660.9V670.1M1801.9,660.9V670.1"/>
<text class="tk" transform="translate(1557 666.8) scale(1.045 1)">0</text>
<text class="tk" transform="translate(1557 623.42) scale(1.045 1)">50</text>
<text class="tk" transform="translate(1557 580.04) scale(1.045 1)">100</text>
<text class="tk" transform="translate(1557 536.66) scale(1.045 1)">150</text>
<text class="tk" transform="translate(1557 493.28) scale(1.045 1)">200</text>
<text class="tk" transform="translate(1557 449.9) scale(1.045 1)">250</text>
<text class="xl" transform="translate(1662.5 687.2) scale(1.045 1)">AD</text>
<text class="xl" transform="translate(1802 687.2) scale(1.045 1)">CD</text>
<text class="yl" transform="translate(1519.2 551.45) rotate(-90) scale(1.035 1)">mg/dL</text>
</g>
</svg>
</body>
</html>
